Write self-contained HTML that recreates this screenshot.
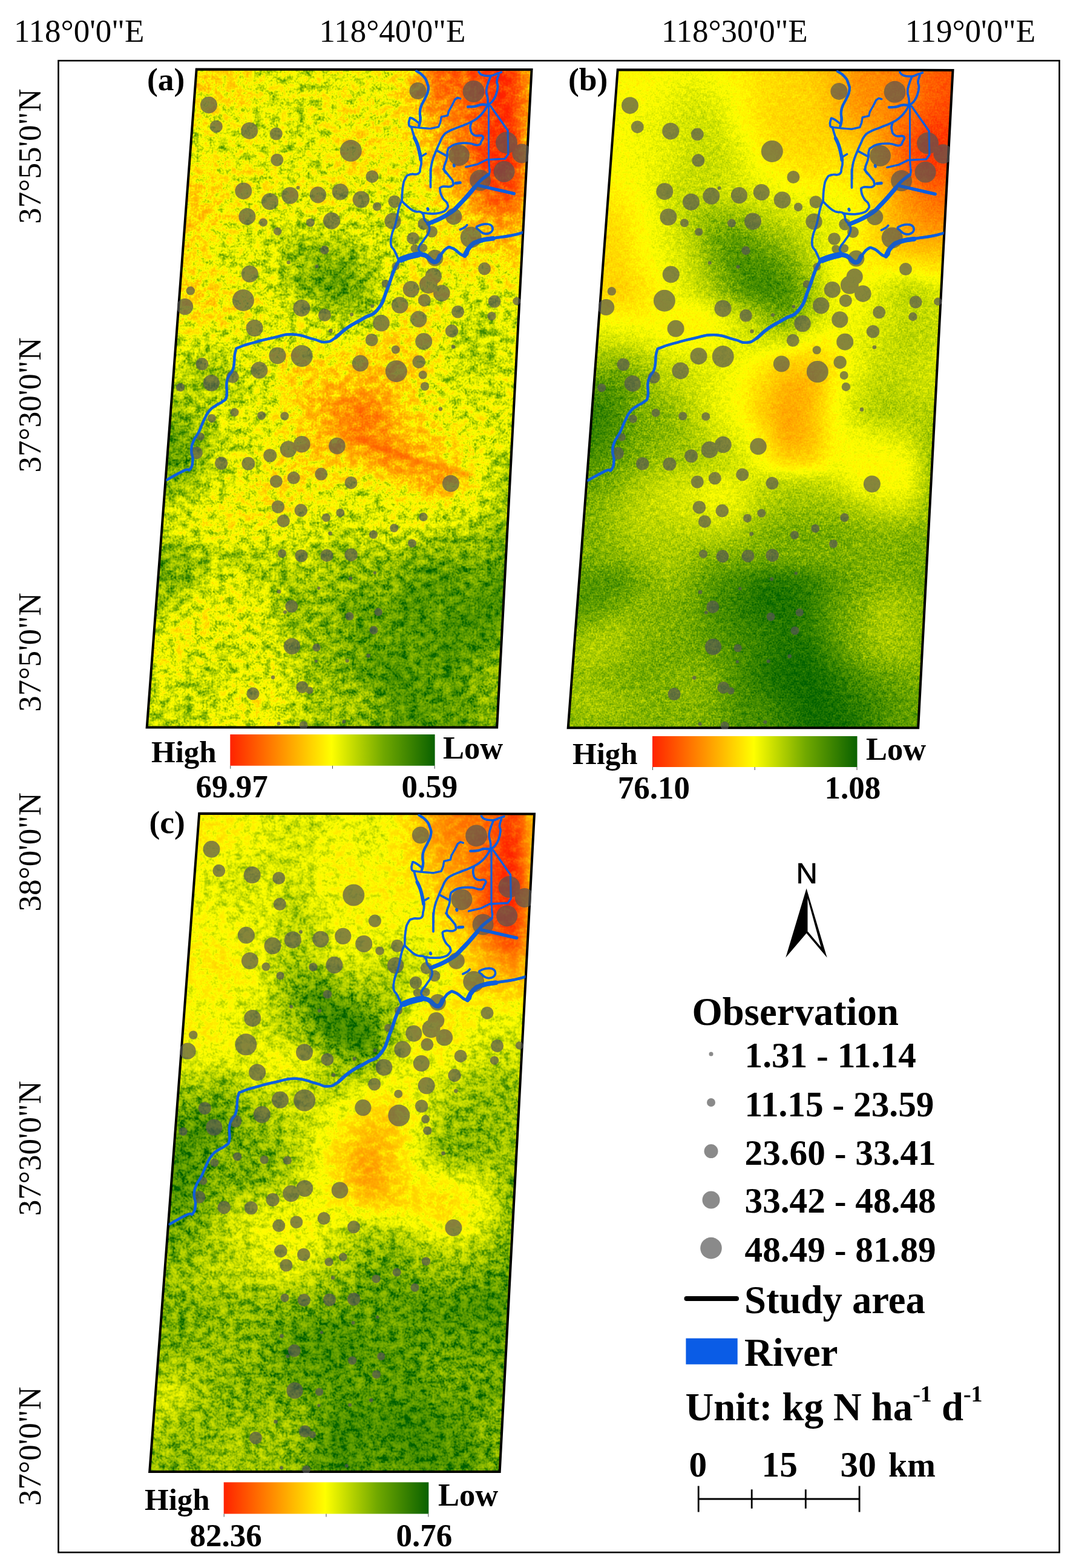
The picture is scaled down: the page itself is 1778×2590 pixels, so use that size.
<!DOCTYPE html>
<html lang="en"><head><meta charset="utf-8"><title>Figure</title>
<style>html,body{margin:0;padding:0;background:#fff}svg{display:block}text{font-family:"Liberation Serif","DejaVu Serif",serif;fill:#000}.b{font-weight:bold}.s{font-family:"Liberation Sans","DejaVu Sans",sans-serif}</style></head><body>
<svg width="1778" height="2590" viewBox="0 0 1778 2590">
<rect width="1778" height="2590" fill="#fff"/>
<defs>
<clipPath id="mc"><polygon points="1020.7,115.2 1574.5,115.9 1517.2,1202.3 938.7,1202.3"/></clipPath>
<clipPath id="mc2"><polygon points="1018.6,113.2 1576.6,113.9 1519.3,1204.3 936.6,1204.3"/></clipPath>
<filter id="sb" x="-20%" y="-100%" width="140%" height="300%"><feGaussianBlur stdDeviation="3.5"/></filter>
<linearGradient id="ramp" x1="0" x2="1" y1="0" y2="0"><stop offset="0" stop-color="#ff2200"/><stop offset="0.25" stop-color="#ff9100"/><stop offset="0.495" stop-color="#ffff00"/><stop offset="0.75" stop-color="#70a800"/><stop offset="1" stop-color="#0a6100"/></linearGradient>
<filter id="ha" filterUnits="userSpaceOnUse" x="860" y="40" width="800" height="1240" color-interpolation-filters="sRGB"><feGaussianBlur in="SourceGraphic" stdDeviation="17" result="f"/><feTurbulence type="fractalNoise" baseFrequency="0.07 0.079" numOctaves="4" seed="11" result="n1"/><feTurbulence type="fractalNoise" baseFrequency="0.327 0.3" numOctaves="1" seed="16" result="n2"/><feComposite in="n1" in2="n2" operator="arithmetic" k1="0" k2="0.60" k3="0.40" k4="0" result="n"/><feColorMatrix in="n" type="matrix" values="1 0 0 0 0 1 0 0 0 0 1 0 0 0 0 0 0 0 0 1" result="g0"/><feComponentTransfer in="g0" result="g"><feFuncR type="table" tableValues="0 0.02 0.08 0.2 0.36 0.5 0.6 0.67 0.72 0.75 0.77"/><feFuncG type="table" tableValues="0 0.02 0.08 0.2 0.36 0.5 0.6 0.67 0.72 0.75 0.77"/><feFuncB type="table" tableValues="0 0.02 0.08 0.2 0.36 0.5 0.6 0.67 0.72 0.75 0.77"/></feComponentTransfer><feComponentTransfer in="f" result="a"><feFuncR type="table" tableValues="0.3 0.55 0.8 0.75 0.75 0.62 0.5 0.4 0.3"/><feFuncG type="table" tableValues="0.3 0.55 0.8 0.75 0.75 0.62 0.5 0.4 0.3"/><feFuncB type="table" tableValues="0.3 0.55 0.8 0.75 0.75 0.62 0.5 0.4 0.3"/></feComponentTransfer><feComposite in="g" in2="a" operator="arithmetic" k1="1" k2="0" k3="-0.5" k4="0.5" result="r"/><feComposite in="f" in2="r" operator="arithmetic" k1="0" k2="1" k3="0.9" k4="-0.450" result="v"/><feComponentTransfer in="v"><feFuncR type="table" tableValues="0 0.44 1 1 1"/><feFuncG type="table" tableValues="0.38 0.66 1 0.57 0.13"/><feFuncB type="table" tableValues="0 0 0 0 0"/></feComponentTransfer></filter>
<filter id="hb" filterUnits="userSpaceOnUse" x="860" y="40" width="800" height="1240" color-interpolation-filters="sRGB"><feGaussianBlur in="SourceGraphic" stdDeviation="16" result="f"/><feTurbulence type="fractalNoise" baseFrequency="0.12 0.136" numOctaves="2" seed="7" result="n1"/><feTurbulence type="fractalNoise" baseFrequency="0.403 0.37" numOctaves="1" seed="12" result="n2"/><feComposite in="n1" in2="n2" operator="arithmetic" k1="0" k2="0.40" k3="0.60" k4="0" result="n"/><feColorMatrix in="n" type="matrix" values="1 0 0 0 0 1 0 0 0 0 1 0 0 0 0 0 0 0 0 1" result="g0"/><feComponentTransfer in="g0" result="g"><feFuncR type="table" tableValues="0 0.1 0.2 0.3 0.4 0.5 0.6 0.7 0.8 0.9 1"/><feFuncG type="table" tableValues="0 0.1 0.2 0.3 0.4 0.5 0.6 0.7 0.8 0.9 1"/><feFuncB type="table" tableValues="0 0.1 0.2 0.3 0.4 0.5 0.6 0.7 0.8 0.9 1"/></feComponentTransfer><feComponentTransfer in="f" result="a"><feFuncR type="table" tableValues="0.4 0.6 0.7 0.5 0.3 0.3 0.3 0.3 0.3"/><feFuncG type="table" tableValues="0.4 0.6 0.7 0.5 0.3 0.3 0.3 0.3 0.3"/><feFuncB type="table" tableValues="0.4 0.6 0.7 0.5 0.3 0.3 0.3 0.3 0.3"/></feComponentTransfer><feComposite in="g" in2="a" operator="arithmetic" k1="1" k2="0" k3="-0.5" k4="0.5" result="r"/><feComposite in="f" in2="r" operator="arithmetic" k1="0" k2="1" k3="0.75" k4="-0.375" result="v"/><feComponentTransfer in="v"><feFuncR type="table" tableValues="0 0.44 1 1 1"/><feFuncG type="table" tableValues="0.38 0.66 1 0.57 0.13"/><feFuncB type="table" tableValues="0 0 0 0 0"/></feComponentTransfer></filter>
<filter id="hc" filterUnits="userSpaceOnUse" x="860" y="40" width="800" height="1240" color-interpolation-filters="sRGB"><feGaussianBlur in="SourceGraphic" stdDeviation="15" result="f"/><feTurbulence type="fractalNoise" baseFrequency="0.075 0.085" numOctaves="4" seed="23" result="n1"/><feTurbulence type="fractalNoise" baseFrequency="0.305 0.28" numOctaves="1" seed="28" result="n2"/><feComposite in="n1" in2="n2" operator="arithmetic" k1="0" k2="0.60" k3="0.40" k4="0" result="n"/><feColorMatrix in="n" type="matrix" values="1 0 0 0 0 1 0 0 0 0 1 0 0 0 0 0 0 0 0 1" result="g0"/><feComponentTransfer in="g0" result="g"><feFuncR type="table" tableValues="0 0.02 0.06 0.16 0.34 0.5 0.6 0.66 0.7 0.73 0.75"/><feFuncG type="table" tableValues="0 0.02 0.06 0.16 0.34 0.5 0.6 0.66 0.7 0.73 0.75"/><feFuncB type="table" tableValues="0 0.02 0.06 0.16 0.34 0.5 0.6 0.66 0.7 0.73 0.75"/></feComponentTransfer><feComponentTransfer in="f" result="a"><feFuncR type="table" tableValues="0.35 0.55 0.75 0.55 0.35 0.3 0.25 0.25 0.25"/><feFuncG type="table" tableValues="0.35 0.55 0.75 0.55 0.35 0.3 0.25 0.25 0.25"/><feFuncB type="table" tableValues="0.35 0.55 0.75 0.55 0.35 0.3 0.25 0.25 0.25"/></feComponentTransfer><feComposite in="g" in2="a" operator="arithmetic" k1="1" k2="0" k3="-0.5" k4="0.5" result="r"/><feComposite in="f" in2="r" operator="arithmetic" k1="0" k2="1" k3="0.9" k4="-0.450" result="v"/><feComponentTransfer in="v"><feFuncR type="table" tableValues="0 0.44 1 1 1"/><feFuncG type="table" tableValues="0.38 0.66 1 0.57 0.13"/><feFuncB type="table" tableValues="0 0 0 0 0"/></feComponentTransfer></filter>
<g id="riv" fill="none" stroke="#0b5fe0" stroke-linecap="round" stroke-linejoin="round">
<path d="M971.7 793.4 C979.3 789.3 990.0 782.7 1000.2 778.0 C1010.4 773.3 1006.3 780.5 1010.1 775.8 C1013.9 771.1 1013.9 768.6 1014.5 760.4 C1015.1 752.2 1012.0 753.3 1012.3 745.1 C1012.6 736.9 1012.4 737.9 1015.6 729.7 C1018.8 721.5 1019.7 723.8 1024.4 714.4 C1029.1 705.0 1028.4 704.0 1033.1 694.6 C1037.8 685.2 1036.6 685.6 1041.9 679.2 C1047.2 672.8 1047.0 674.6 1052.9 670.5 C1058.8 666.4 1059.2 668.0 1063.9 663.9 C1068.6 659.8 1068.6 663.3 1070.4 655.1 C1072.2 646.9 1069.5 642.3 1070.6 633.2 C1071.7 624.1 1071.5 627.7 1074.5 621.0 C1077.5 614.3 1078.9 618.5 1081.7 608.0 C1084.5 597.5 1082.1 590.7 1085.0 581.6 C1087.9 572.5 1084.1 578.1 1092.6 574.0 C1101.1 569.9 1102.2 570.4 1116.8 566.3 C1131.4 562.2 1130.5 562.1 1147.5 558.6 C1164.5 555.1 1162.9 552.5 1180.4 553.1 C1197.9 553.7 1199.2 557.4 1213.3 560.8 C1227.4 564.2 1223.2 566.4 1233.1 565.8 C1243.0 565.2 1240.8 564.9 1250.6 558.6 C1260.4 552.3 1257.8 550.6 1270.0 542.1 C1282.2 533.6 1282.8 535.0 1296.3 526.8 C1309.8 518.6 1310.0 524.3 1320.5 511.4 C1331.0 498.5 1328.8 495.5 1335.8 478.5 C1342.8 461.5 1341.5 460.3 1346.8 447.8 C1352.1 435.3 1353.2 435.8 1355.5 431.5" stroke-width="4.25"/>
<path d="M1250.6 558.6 C1255.8 554.2 1257.8 550.6 1270.0 542.1 C1282.2 533.6 1282.8 535.0 1296.3 526.8 C1309.8 518.6 1310.0 524.3 1320.5 511.4 C1331.0 498.5 1328.8 495.5 1335.8 478.5 C1342.8 461.5 1341.5 460.3 1346.8 447.8 C1352.1 435.3 1353.2 435.8 1355.5 431.5" stroke-width="5.29"/>
<path d="M1354.8 431.2 C1359.4 429.5 1362.7 427.7 1372.1 424.7 C1381.6 421.8 1383.0 420.7 1390.2 420.2 C1397.4 419.8 1392.8 419.4 1399.2 422.9 C1405.6 426.5 1407.8 433.5 1414.3 433.5 C1420.7 433.5 1418.1 428.9 1423.3 422.9 C1428.5 417.0 1428.2 414.3 1433.8 411.2 C1439.4 408.1 1436.3 408.1 1444.4 411.2 C1452.4 414.3 1456.3 423.8 1463.9 422.9 C1471.5 422.1 1466.5 414.3 1472.9 407.9 C1479.4 401.5 1478.0 402.5 1488.0 398.9 C1498.0 395.3 1496.5 396.8 1510.6 394.4 C1524.6 391.9 1526.6 392.6 1540.7 389.8 C1554.7 387.0 1557.2 385.4 1563.2 383.8" stroke-width="4.48"/>
<path d="M1358.6 429.7 C1362.2 428.4 1364.5 427.0 1372.1 424.7 C1379.8 422.5 1383.2 422.1 1387.2 421.1" stroke-width="9.77"/>
<path d="M1387.2 421.1 C1390.4 421.6 1392.0 419.7 1399.2 422.9 C1406.4 426.2 1407.8 433.5 1414.3 433.5 C1420.7 433.5 1420.9 425.8 1423.3 422.9" stroke-width="7.47"/>
<path d="M1463.9 422.9 C1466.3 418.9 1466.5 414.3 1472.9 407.9 C1479.4 401.5 1478.0 402.4 1488.0 398.9 C1498.0 395.3 1504.5 395.8 1510.6 394.7" stroke-width="7.47"/>
<path d="M1383.9 117.8 C1386.9 120.0 1390.3 120.6 1395.1 126.1 C1400.0 131.5 1399.7 131.7 1401.9 138.1 C1404.1 144.5 1404.4 143.3 1403.4 150.1 C1402.4 157.0 1401.2 156.9 1398.1 163.7 C1395.1 170.5 1394.3 169.7 1392.1 175.7 C1389.9 181.7 1390.3 180.2 1389.9 186.3 C1389.5 192.3 1391.0 192.3 1390.6 198.3 C1390.2 204.3 1389.0 206.0 1388.4 208.8" stroke-width="4.14"/>
<path d="M1388.4 204.3 C1385.2 202.1 1380.5 197.6 1376.3 196.0 C1372.1 194.4 1373.8 195.3 1372.6 198.3 C1371.4 201.3 1371.0 204.1 1371.8 207.3 C1372.6 210.5 1374.6 209.5 1375.6 210.3" stroke-width="3.45"/>
<path d="M1375.6 210.3 L1389.1 211.8 L1407.2 213.3 L1420.7 210.3 L1423.7 202.8 L1425.2 193.8 L1435.8 191.5 L1437.3 184.7 L1443.3 174.2 L1447.8 165.2 L1452.3 162.2 L1456.8 163.7" stroke-width="3.10"/>
<path d="M1375.6 210.3 C1376.8 214.3 1377.3 217.3 1380.1 225.4 C1382.9 233.4 1383.5 232.4 1386.1 240.4 C1388.7 248.4 1388.3 248.2 1389.9 255.5 C1391.5 262.7 1391.9 261.5 1392.1 267.5 C1392.3 273.5 1391.9 272.7 1390.6 278.0 C1389.3 283.4 1391.7 284.6 1387.2 287.5 C1382.6 290.5 1379.3 287.0 1373.6 289.0 C1368.0 291.0 1369.3 289.4 1366.1 295.0 C1362.9 300.7 1363.2 300.1 1361.6 310.1 C1360.0 320.1 1360.5 326.6 1360.1 332.7" stroke-width="3.45"/>
<path d="M1380.8 228.4 C1382.2 231.6 1383.7 233.2 1386.1 240.4 C1388.5 247.6 1388.5 249.0 1389.9 255.5 C1391.3 261.9 1391.0 262.1 1391.4 264.5" stroke-width="5.52"/>
<path d="M1399.7 254.7 L1392.1 259.2" stroke-width="3.10"/>
<path d="M1360.1 332.7 C1362.1 334.7 1362.4 335.8 1367.6 340.2 C1372.8 344.6 1372.8 346.0 1379.7 349.2 C1386.5 352.4 1388.4 348.2 1393.2 352.2 C1398.0 356.2 1394.9 359.4 1397.7 364.3 C1400.5 369.1 1402.1 368.7 1403.7 370.3" stroke-width="3.45"/>
<path d="M1393.2 352.2 C1397.2 352.6 1400.2 353.7 1408.2 353.7 C1416.3 353.7 1416.5 354.2 1423.3 352.2 C1430.1 350.2 1430.6 350.2 1433.8 346.2 C1437.0 342.2 1436.9 342.0 1435.3 337.2 C1433.7 332.4 1431.0 333.8 1427.8 328.1 C1424.6 322.5 1423.7 321.1 1423.3 316.1 C1422.9 311.1 1421.5 311.3 1426.3 309.3 C1431.1 307.3 1436.5 310.8 1441.3 308.6 C1446.2 306.4 1445.2 305.5 1444.4 301.1 C1443.6 296.7 1442.5 297.7 1438.3 292.0 C1434.1 286.4 1429.2 280.9 1428.6 280.0 C1427.9 279.1 1435.4 288.7 1435.8 288.6 C1436.1 288.4 1430.1 286.4 1429.7 279.5 C1429.3 272.7 1432.7 271.0 1434.3 263.0 C1435.9 255.0 1434.2 254.7 1435.8 249.4 C1437.4 244.2 1435.9 246.4 1440.3 243.4 C1444.7 240.4 1444.3 239.8 1452.3 238.2 C1460.3 236.6 1461.5 236.8 1470.4 237.4 C1479.2 238.0 1479.8 241.2 1485.4 240.4 C1491.0 239.6 1489.4 238.4 1491.4 234.4 C1493.4 230.4 1496.2 228.2 1492.9 225.4 C1489.7 222.6 1484.6 227.1 1479.4 223.9 C1474.2 220.7 1474.6 219.0 1473.4 213.3 C1472.2 207.7 1474.5 205.6 1474.9 202.8" stroke-width="3.45"/>
<path d="M1360.1 332.7 C1358.9 335.5 1358.4 333.2 1355.6 343.2 C1352.8 353.2 1352.8 358.2 1349.6 370.3 C1346.4 382.3 1345.5 379.1 1343.5 388.3 C1341.5 397.6 1340.8 397.7 1342.0 404.9 C1343.2 412.1 1344.6 408.6 1348.1 415.4 C1351.5 422.2 1353.0 426.5 1354.8 430.5" stroke-width="3.45"/>
<path d="M1502.0 174.2 C1500.0 177.4 1498.9 180.6 1494.4 186.3 C1490.0 191.9 1491.0 190.9 1485.4 195.3 C1479.8 199.7 1481.4 198.8 1473.4 202.8 C1465.4 206.8 1465.0 206.3 1455.3 210.3 C1445.7 214.3 1444.5 213.8 1437.3 217.8 C1430.0 221.9 1432.3 220.2 1428.2 225.4 C1424.2 230.6 1425.4 230.6 1422.2 237.4 C1419.0 244.2 1419.4 242.9 1416.2 251.0 C1413.0 259.0 1412.4 259.1 1410.2 267.5 C1408.0 275.9 1408.5 275.2 1407.9 282.6 C1407.3 289.9 1408.0 295.7 1407.9 295.0 C1407.8 294.4 1407.6 276.0 1407.5 280.0 C1407.4 284.0 1407.5 302.1 1407.5 310.1" stroke-width="3.45"/>
<path d="M1417.7 249.4 L1434.3 258.5" stroke-width="3.45"/>
<path d="M1486.9 119.3 C1488.5 120.7 1487.7 122.8 1492.9 124.6 C1498.2 126.4 1500.5 126.5 1506.5 126.1 C1512.5 125.7 1510.7 124.7 1515.5 123.1 C1520.3 121.5 1522.1 120.8 1524.5 120.0" stroke-width="3.45"/>
<path d="M1506.5 127.6 C1505.3 130.8 1503.8 133.2 1502.0 139.6 C1500.2 146.0 1499.7 145.2 1499.7 151.6 C1499.7 158.1 1501.4 157.7 1502.0 163.7 C1502.6 169.7 1502.0 171.4 1502.0 174.2" stroke-width="3.45"/>
<path d="M1520.0 124.6 C1519.2 127.4 1517.4 129.9 1517.0 135.1 C1516.6 140.3 1518.9 138.1 1518.5 144.1 C1518.1 150.1 1517.9 151.2 1515.5 157.7 C1513.1 164.1 1513.1 163.8 1509.5 168.2 C1505.9 172.6 1504.0 172.6 1502.0 174.2" stroke-width="3.45"/>
<path d="M1502.0 174.2 C1499.2 174.0 1497.1 172.9 1491.4 173.5 C1485.8 174.1 1486.9 175.5 1480.9 176.5 C1474.9 177.5 1472.1 177.0 1468.9 177.2" stroke-width="4.02"/>
<path d="M1503.5 174.2 L1503.5 263.0 L1505.0 285.6 L1505.3 280.0 L1504.5 289.0" stroke-width="2.88"/>
<path d="M1506.5 175.7 L1535.1 216.3 L1535.8 255.5 L1530.6 263.0 L1500.5 264.5 L1485.4 272.0 L1465.9 276.5" stroke-width="3.10"/>
<path d="M1403.7 370.3 C1412.2 366.3 1420.9 364.5 1435.3 355.2 C1449.8 346.0 1445.9 347.7 1457.9 335.7 C1469.9 323.6 1474.4 316.9 1480.5 310.1" stroke-width="6.90"/>
<path d="M1480.5 310.1 C1482.9 307.3 1483.5 305.2 1489.5 299.6 C1495.5 293.9 1499.4 291.8 1503.0 289.0" stroke-width="5.17"/>
<path d="M1486.5 307.1 L1545.2 320.6" stroke-width="5.17"/>
<path d="M1403.7 370.3 C1404.1 373.5 1407.2 375.1 1405.2 382.3 C1403.2 389.5 1400.6 390.5 1396.2 397.4 C1391.8 404.2 1390.7 403.1 1388.7 407.9 C1386.7 412.7 1387.1 412.2 1388.7 415.4 C1390.3 418.6 1393.1 418.7 1394.7 419.9" stroke-width="3.45"/>
<path d="M1483.2 376.6 C1483.2 374.8 1484.5 375.0 1487.2 373.6 C1489.9 372.2 1489.8 372.2 1493.3 371.5 C1496.7 370.8 1496.6 370.7 1500.0 370.9 C1503.4 371.0 1503.6 370.8 1506.0 372.1 C1508.5 373.3 1508.3 373.4 1509.4 375.5 C1510.4 377.7 1510.4 377.8 1510.0 380.1 C1509.5 382.3 1509.4 382.4 1507.6 384.1 C1505.7 385.8 1505.8 385.8 1503.0 386.5 C1500.2 387.3 1500.0 387.4 1497.0 386.8 C1494.0 386.3 1494.4 386.3 1491.8 384.6 C1489.1 382.9 1489.5 382.6 1487.2 380.5 C1485.0 378.4 1483.2 378.4 1483.2 376.6 Z" stroke-width="3.45"/>
<path d="M1456.4 380.1 C1458.4 379.1 1460.9 378.3 1463.9 376.3 C1466.9 374.3 1466.7 373.5 1467.7 372.5" stroke-width="3.45"/>
<path d="M1448.9 303.3 L1456.4 302.6" stroke-width="4.60"/>
<path d="M1402.7 345.5 L1403.3 347.0" stroke-width="4.60"/>
<path d="M1446.0 273.5 L1446.6 275.0" stroke-width="4.60"/>
</g>
<g id="obs" fill="#555" opacity="0.7" clip-path="url(#mc2)">
<circle cx="1041.0" cy="174.2" r="14"/>
<circle cx="1053.3" cy="209.7" r="10.5"/>
<circle cx="1108.2" cy="216.7" r="14"/>
<circle cx="1152.3" cy="221.8" r="10.5"/>
<circle cx="1153.8" cy="265.0" r="10.5"/>
<circle cx="1275.8" cy="249.9" r="18"/>
<circle cx="1310.9" cy="292.5" r="10.5"/>
<circle cx="1098.3" cy="316.2" r="14"/>
<circle cx="1142.0" cy="333.7" r="14"/>
<circle cx="1175.3" cy="323.8" r="14"/>
<circle cx="1188.5" cy="310.7" r="3"/>
<circle cx="1221.4" cy="322.7" r="13.6"/>
<circle cx="1258.3" cy="317.7" r="13.6"/>
<circle cx="1292.7" cy="330.4" r="14"/>
<circle cx="1319.0" cy="342.0" r="7.2"/>
<circle cx="1104.4" cy="358.5" r="14"/>
<circle cx="1131.0" cy="368.2" r="7"/>
<circle cx="1208.9" cy="368.6" r="7"/>
<circle cx="1244.0" cy="365.5" r="14"/>
<circle cx="1154.7" cy="383.0" r="6.6"/>
<circle cx="1386.4" cy="150.9" r="14"/>
<circle cx="1478.6" cy="151.8" r="18"/>
<circle cx="1533.0" cy="236.5" r="18"/>
<circle cx="1558.3" cy="254.3" r="16"/>
<circle cx="1454.5" cy="257.3" r="17.5"/>
<circle cx="1529.1" cy="284.3" r="17.5"/>
<circle cx="1489.6" cy="298.6" r="17.5"/>
<circle cx="1348.0" cy="333.7" r="10.5"/>
<circle cx="1345.0" cy="366.0" r="13.6"/>
<circle cx="1445.7" cy="358.5" r="13.6"/>
<circle cx="1396.2" cy="370.5" r="10"/>
<circle cx="1409.5" cy="383.5" r="9.5"/>
<circle cx="1378.5" cy="394.5" r="10.3"/>
<circle cx="1381.3" cy="411.4" r="7"/>
<circle cx="1395.1" cy="410.2" r="7"/>
<circle cx="1474.2" cy="392.9" r="17.5"/>
<circle cx="1414.8" cy="427.0" r="13.6"/>
<circle cx="1496.5" cy="444.6" r="10.5"/>
<circle cx="1350.0" cy="440.5" r="6.5"/>
<circle cx="1333.2" cy="469.3" r="6.6"/>
<circle cx="1412.2" cy="457.0" r="13.6"/>
<circle cx="1403.9" cy="470.8" r="15"/>
<circle cx="1425.8" cy="485.1" r="13.8"/>
<circle cx="1375.3" cy="478.5" r="13.6"/>
<circle cx="1397.3" cy="496.7" r="10.5"/>
<circle cx="1356.7" cy="504.8" r="13.8"/>
<circle cx="1311.3" cy="506.4" r="3"/>
<circle cx="1277.1" cy="520.2" r="3"/>
<circle cx="1387.8" cy="527.9" r="13.6"/>
<circle cx="1452.6" cy="515.8" r="10.5"/>
<circle cx="1513.1" cy="498.9" r="10.5"/>
<circle cx="1549.8" cy="498.2" r="6.6"/>
<circle cx="1508.5" cy="523.0" r="7.2"/>
<circle cx="1326.0" cy="534.5" r="13.8"/>
<circle cx="1442.5" cy="547.6" r="10.7"/>
<circle cx="1310.2" cy="562.3" r="10.5"/>
<circle cx="1396.2" cy="564.7" r="14"/>
<circle cx="1444.9" cy="573.5" r="3.3"/>
<circle cx="1349.7" cy="578.3" r="7"/>
<circle cx="1291.4" cy="601.0" r="13.6"/>
<circle cx="1350.8" cy="614.0" r="18"/>
<circle cx="1388.1" cy="598.5" r="10.7"/>
<circle cx="1394.7" cy="620.0" r="7"/>
<circle cx="1397.9" cy="639.0" r="7.2"/>
<circle cx="1232.4" cy="413.8" r="7.2"/>
<circle cx="1172.7" cy="434.2" r="3"/>
<circle cx="1219.5" cy="440.8" r="3"/>
<circle cx="1108.7" cy="453.3" r="14"/>
<circle cx="1010.8" cy="481.1" r="7.2"/>
<circle cx="1001.6" cy="507.5" r="13.6"/>
<circle cx="1097.9" cy="496.7" r="18"/>
<circle cx="1194.5" cy="509.7" r="14"/>
<circle cx="1232.4" cy="521.3" r="10.5"/>
<circle cx="1242.5" cy="547.2" r="3.3"/>
<circle cx="1116.6" cy="542.8" r="14"/>
<circle cx="1154.5" cy="588.2" r="14"/>
<circle cx="1194.7" cy="588.9" r="18"/>
<circle cx="1029.9" cy="602.1" r="10.5"/>
<circle cx="1124.4" cy="612.4" r="14"/>
<circle cx="1080.4" cy="623.3" r="10.3"/>
<circle cx="1045.3" cy="633.5" r="13.6"/>
<circle cx="994.1" cy="640.5" r="7"/>
<circle cx="1083.6" cy="681.9" r="7"/>
<circle cx="1128.2" cy="687.2" r="7"/>
<circle cx="1166.3" cy="688.0" r="7"/>
<circle cx="1045.9" cy="691.8" r="7"/>
<circle cx="1027.2" cy="722.0" r="6.6"/>
<circle cx="1020.6" cy="748.8" r="10.3"/>
<circle cx="1194.9" cy="734.5" r="13.8"/>
<circle cx="1172.5" cy="742.9" r="13.8"/>
<circle cx="1253.0" cy="737.4" r="13.8"/>
<circle cx="1142.2" cy="753.2" r="11"/>
<circle cx="1061.7" cy="765.9" r="10.7"/>
<circle cx="1106.4" cy="766.6" r="11"/>
<circle cx="1226.7" cy="783.9" r="10.5"/>
<circle cx="1181.3" cy="790.1" r="10.5"/>
<circle cx="1152.3" cy="796.0" r="10.5"/>
<circle cx="1276.0" cy="798.2" r="10.5"/>
<circle cx="1155.4" cy="837.9" r="10.7"/>
<circle cx="1193.3" cy="843.8" r="10.7"/>
<circle cx="1164.4" cy="861.4" r="10.5"/>
<circle cx="1235.0" cy="855.9" r="7"/>
<circle cx="1258.3" cy="847.8" r="7"/>
<circle cx="1241.6" cy="881.9" r="3.3"/>
<circle cx="1424.0" cy="676.4" r="3.3"/>
<circle cx="1440.9" cy="799.5" r="14"/>
<circle cx="1395.5" cy="854.8" r="7.2"/>
<circle cx="1347.2" cy="873.0" r="7"/>
<circle cx="1313.0" cy="883.8" r="7"/>
<circle cx="1377.0" cy="898.2" r="7"/>
<circle cx="1162.0" cy="915.1" r="7"/>
<circle cx="1193.9" cy="918.8" r="10.5"/>
<circle cx="1236.0" cy="918.4" r="10.5"/>
<circle cx="1276.2" cy="917.3" r="10.7"/>
<circle cx="1157.0" cy="978.1" r="3.3"/>
<circle cx="1222.8" cy="972.2" r="2.6"/>
<circle cx="1177.8" cy="1002.4" r="10.5"/>
<circle cx="1166.9" cy="1011.7" r="3"/>
<circle cx="1178.5" cy="1068.3" r="13.6"/>
<circle cx="1219.1" cy="1070.5" r="6.6"/>
<circle cx="1218.4" cy="1092.9" r="2.6"/>
<circle cx="1147.1" cy="1119.6" r="3.3"/>
<circle cx="1195.4" cy="1135.7" r="10"/>
<circle cx="1207.5" cy="1141.1" r="6"/>
<circle cx="1114.0" cy="1146.6" r="10.5"/>
<circle cx="1156.6" cy="1196.0" r="3"/>
<circle cx="1197.6" cy="1198.8" r="7"/>
<circle cx="1264.3" cy="1192.7" r="3"/>
<circle cx="1275.1" cy="956.4" r="3"/>
<circle cx="1315.3" cy="946.9" r="2.6"/>
<circle cx="1321.2" cy="1011.7" r="6.6"/>
<circle cx="1273.6" cy="1018.7" r="7"/>
<circle cx="1313.5" cy="1041.7" r="7"/>
<circle cx="1304.7" cy="1084.1" r="3.3"/>
<circle cx="1269.6" cy="1092.2" r="3"/>
</g>
</defs>
<g transform="translate(-696.0,-0.8)">
<g clip-path="url(#mc)"><g filter="url(#ha)" shape-rendering="crispEdges">
<rect x="840" y="20" width="200" height="120" fill="#919191"/>
<rect x="1040" y="20" width="40" height="120" fill="#969696"/>
<rect x="1080" y="20" width="40" height="120" fill="#878787"/>
<rect x="1120" y="20" width="40" height="120" fill="#777777"/>
<rect x="1160" y="20" width="40" height="120" fill="#757575"/>
<rect x="1200" y="20" width="40" height="120" fill="#777777"/>
<rect x="1240" y="20" width="40" height="120" fill="#7d7d7d"/>
<rect x="1280" y="20" width="40" height="120" fill="#777777"/>
<rect x="1320" y="20" width="40" height="120" fill="#808080"/>
<rect x="1360" y="20" width="40" height="120" fill="#a8a8a8"/>
<rect x="1400" y="20" width="40" height="120" fill="#d5d5d5"/>
<rect x="1440" y="20" width="40" height="120" fill="#dddddd"/>
<rect x="1480" y="20" width="40" height="120" fill="#f1f1f1"/>
<rect x="1520" y="20" width="40" height="120" fill="#ffffff"/>
<rect x="1560" y="20" width="120" height="120" fill="#969696"/>
<rect x="840" y="140" width="200" height="40" fill="#8e8e8e"/>
<rect x="1040" y="140" width="40" height="40" fill="#969696"/>
<rect x="1080" y="140" width="40" height="40" fill="#878787"/>
<rect x="1120" y="140" width="40" height="40" fill="#777777"/>
<rect x="1160" y="140" width="40" height="40" fill="#757575"/>
<rect x="1200" y="140" width="40" height="40" fill="#777777"/>
<rect x="1240" y="140" width="40" height="40" fill="#838383"/>
<rect x="1280" y="140" width="40" height="40" fill="#777777"/>
<rect x="1320" y="140" width="40" height="40" fill="#808080"/>
<rect x="1360" y="140" width="40" height="40" fill="#a4a4a4"/>
<rect x="1400" y="140" width="80" height="40" fill="#d5d5d5"/>
<rect x="1480" y="140" width="40" height="40" fill="#e9e9e9"/>
<rect x="1520" y="140" width="40" height="40" fill="#ffffff"/>
<rect x="1560" y="140" width="120" height="40" fill="#969696"/>
<rect x="840" y="180" width="200" height="40" fill="#808080"/>
<rect x="1040" y="180" width="80" height="40" fill="#7d7d7d"/>
<rect x="1120" y="180" width="120" height="40" fill="#757575"/>
<rect x="1240" y="180" width="80" height="40" fill="#878787"/>
<rect x="1320" y="180" width="40" height="40" fill="#838383"/>
<rect x="1360" y="180" width="40" height="40" fill="#919191"/>
<rect x="1400" y="180" width="40" height="40" fill="#b8b8b8"/>
<rect x="1440" y="180" width="40" height="40" fill="#c7c7c7"/>
<rect x="1480" y="180" width="40" height="40" fill="#e9e9e9"/>
<rect x="1520" y="180" width="40" height="40" fill="#ffffff"/>
<rect x="1560" y="180" width="120" height="40" fill="#969696"/>
<rect x="840" y="220" width="240" height="40" fill="#757575"/>
<rect x="1080" y="220" width="80" height="40" fill="#777777"/>
<rect x="1160" y="220" width="80" height="40" fill="#757575"/>
<rect x="1240" y="220" width="40" height="40" fill="#8a8a8a"/>
<rect x="1280" y="220" width="40" height="40" fill="#909090"/>
<rect x="1320" y="220" width="40" height="40" fill="#838383"/>
<rect x="1360" y="220" width="40" height="40" fill="#888888"/>
<rect x="1400" y="220" width="40" height="40" fill="#aeaeae"/>
<rect x="1440" y="220" width="40" height="40" fill="#c7c7c7"/>
<rect x="1480" y="220" width="40" height="40" fill="#f1f1f1"/>
<rect x="1520" y="220" width="40" height="40" fill="#ffffff"/>
<rect x="1560" y="220" width="120" height="40" fill="#969696"/>
<rect x="840" y="260" width="200" height="40" fill="#888888"/>
<rect x="1040" y="260" width="40" height="40" fill="#878787"/>
<rect x="1080" y="260" width="40" height="40" fill="#838383"/>
<rect x="1120" y="260" width="40" height="40" fill="#7d7d7d"/>
<rect x="1160" y="260" width="80" height="40" fill="#757575"/>
<rect x="1240" y="260" width="40" height="40" fill="#878787"/>
<rect x="1280" y="260" width="40" height="40" fill="#8a8a8a"/>
<rect x="1320" y="260" width="40" height="40" fill="#808080"/>
<rect x="1360" y="260" width="40" height="40" fill="#838383"/>
<rect x="1400" y="260" width="40" height="40" fill="#a4a4a4"/>
<rect x="1440" y="260" width="40" height="40" fill="#c7c7c7"/>
<rect x="1480" y="260" width="40" height="40" fill="#f1f1f1"/>
<rect x="1520" y="260" width="40" height="40" fill="#ffffff"/>
<rect x="1560" y="260" width="120" height="40" fill="#969696"/>
<rect x="840" y="300" width="200" height="40" fill="#969696"/>
<rect x="1040" y="300" width="40" height="40" fill="#8a8a8a"/>
<rect x="1080" y="300" width="40" height="40" fill="#838383"/>
<rect x="1120" y="300" width="80" height="40" fill="#7d7d7d"/>
<rect x="1200" y="300" width="40" height="40" fill="#878787"/>
<rect x="1240" y="300" width="40" height="40" fill="#7d7d7d"/>
<rect x="1280" y="300" width="80" height="40" fill="#757575"/>
<rect x="1360" y="300" width="40" height="40" fill="#808080"/>
<rect x="1400" y="300" width="40" height="40" fill="#919191"/>
<rect x="1440" y="300" width="40" height="40" fill="#a8a8a8"/>
<rect x="1480" y="300" width="40" height="40" fill="#e3e3e3"/>
<rect x="1520" y="300" width="40" height="40" fill="#f1f1f1"/>
<rect x="1560" y="300" width="120" height="40" fill="#969696"/>
<rect x="840" y="340" width="200" height="40" fill="#9d9d9d"/>
<rect x="1040" y="340" width="40" height="40" fill="#909090"/>
<rect x="1080" y="340" width="40" height="40" fill="#838383"/>
<rect x="1120" y="340" width="80" height="40" fill="#757575"/>
<rect x="1200" y="340" width="40" height="40" fill="#777777"/>
<rect x="1240" y="340" width="80" height="40" fill="#757575"/>
<rect x="1320" y="340" width="40" height="40" fill="#6f6f6f"/>
<rect x="1360" y="340" width="40" height="40" fill="#757575"/>
<rect x="1400" y="340" width="40" height="40" fill="#888888"/>
<rect x="1440" y="340" width="40" height="40" fill="#969696"/>
<rect x="1480" y="340" width="40" height="40" fill="#b8b8b8"/>
<rect x="1520" y="340" width="40" height="40" fill="#c1c1c1"/>
<rect x="1560" y="340" width="120" height="40" fill="#969696"/>
<rect x="840" y="380" width="200" height="40" fill="#919191"/>
<rect x="1040" y="380" width="80" height="40" fill="#757575"/>
<rect x="1120" y="380" width="40" height="40" fill="#6f6f6f"/>
<rect x="1160" y="380" width="80" height="40" fill="#575757"/>
<rect x="1240" y="380" width="40" height="40" fill="#5e5e5e"/>
<rect x="1280" y="380" width="40" height="40" fill="#696969"/>
<rect x="1320" y="380" width="40" height="40" fill="#6f6f6f"/>
<rect x="1360" y="380" width="40" height="40" fill="#757575"/>
<rect x="1400" y="380" width="40" height="40" fill="#888888"/>
<rect x="1440" y="380" width="40" height="40" fill="#919191"/>
<rect x="1480" y="380" width="40" height="40" fill="#9d9d9d"/>
<rect x="1520" y="380" width="40" height="40" fill="#a4a4a4"/>
<rect x="1560" y="380" width="120" height="40" fill="#919191"/>
<rect x="840" y="420" width="160" height="40" fill="#919191"/>
<rect x="1000" y="420" width="40" height="40" fill="#888888"/>
<rect x="1040" y="420" width="80" height="40" fill="#757575"/>
<rect x="1120" y="420" width="40" height="40" fill="#6f6f6f"/>
<rect x="1160" y="420" width="40" height="40" fill="#575757"/>
<rect x="1200" y="420" width="40" height="40" fill="#444444"/>
<rect x="1240" y="420" width="40" height="40" fill="#3b3b3b"/>
<rect x="1280" y="420" width="40" height="40" fill="#575757"/>
<rect x="1320" y="420" width="40" height="40" fill="#757575"/>
<rect x="1360" y="420" width="40" height="40" fill="#808080"/>
<rect x="1400" y="420" width="120" height="40" fill="#888888"/>
<rect x="1520" y="420" width="40" height="40" fill="#919191"/>
<rect x="1560" y="420" width="120" height="40" fill="#888888"/>
<rect x="840" y="460" width="200" height="40" fill="#969696"/>
<rect x="1040" y="460" width="40" height="40" fill="#8e8e8e"/>
<rect x="1080" y="460" width="40" height="40" fill="#808080"/>
<rect x="1120" y="460" width="40" height="40" fill="#757575"/>
<rect x="1160" y="460" width="40" height="40" fill="#5e5e5e"/>
<rect x="1200" y="460" width="40" height="40" fill="#3b3b3b"/>
<rect x="1240" y="460" width="40" height="40" fill="#333333"/>
<rect x="1280" y="460" width="40" height="40" fill="#494949"/>
<rect x="1320" y="460" width="40" height="40" fill="#757575"/>
<rect x="1360" y="460" width="40" height="40" fill="#838383"/>
<rect x="1400" y="460" width="40" height="40" fill="#888888"/>
<rect x="1440" y="460" width="80" height="40" fill="#757575"/>
<rect x="1520" y="460" width="160" height="40" fill="#808080"/>
<rect x="840" y="500" width="160" height="40" fill="#888888"/>
<rect x="1000" y="500" width="40" height="40" fill="#919191"/>
<rect x="1040" y="500" width="40" height="40" fill="#8e8e8e"/>
<rect x="1080" y="500" width="40" height="40" fill="#808080"/>
<rect x="1120" y="500" width="80" height="40" fill="#757575"/>
<rect x="1200" y="500" width="40" height="40" fill="#6f6f6f"/>
<rect x="1240" y="500" width="80" height="40" fill="#575757"/>
<rect x="1320" y="500" width="40" height="40" fill="#808080"/>
<rect x="1360" y="500" width="40" height="40" fill="#888888"/>
<rect x="1400" y="500" width="40" height="40" fill="#808080"/>
<rect x="1440" y="500" width="40" height="40" fill="#6f6f6f"/>
<rect x="1480" y="500" width="40" height="40" fill="#636363"/>
<rect x="1520" y="500" width="160" height="40" fill="#757575"/>
<rect x="840" y="540" width="440" height="40" fill="#757575"/>
<rect x="1280" y="540" width="40" height="40" fill="#888888"/>
<rect x="1320" y="540" width="40" height="40" fill="#8e8e8e"/>
<rect x="1360" y="540" width="40" height="40" fill="#919191"/>
<rect x="1400" y="540" width="40" height="40" fill="#808080"/>
<rect x="1440" y="540" width="40" height="40" fill="#636363"/>
<rect x="1480" y="540" width="40" height="40" fill="#5e5e5e"/>
<rect x="1520" y="540" width="160" height="40" fill="#757575"/>
<rect x="840" y="580" width="160" height="40" fill="#6f6f6f"/>
<rect x="1000" y="580" width="80" height="40" fill="#5e5e5e"/>
<rect x="1080" y="580" width="80" height="40" fill="#757575"/>
<rect x="1160" y="580" width="40" height="40" fill="#969696"/>
<rect x="1200" y="580" width="80" height="40" fill="#909090"/>
<rect x="1280" y="580" width="40" height="40" fill="#969696"/>
<rect x="1320" y="580" width="40" height="40" fill="#9f9f9f"/>
<rect x="1360" y="580" width="40" height="40" fill="#969696"/>
<rect x="1400" y="580" width="40" height="40" fill="#7d7d7d"/>
<rect x="1440" y="580" width="40" height="40" fill="#696969"/>
<rect x="1480" y="580" width="40" height="40" fill="#636363"/>
<rect x="1520" y="580" width="160" height="40" fill="#757575"/>
<rect x="840" y="620" width="160" height="40" fill="#5e5e5e"/>
<rect x="1000" y="620" width="40" height="40" fill="#575757"/>
<rect x="1040" y="620" width="40" height="40" fill="#4f4f4f"/>
<rect x="1080" y="620" width="40" height="40" fill="#636363"/>
<rect x="1120" y="620" width="40" height="40" fill="#757575"/>
<rect x="1160" y="620" width="40" height="40" fill="#969696"/>
<rect x="1200" y="620" width="40" height="40" fill="#9f9f9f"/>
<rect x="1240" y="620" width="40" height="40" fill="#a6a6a6"/>
<rect x="1280" y="620" width="40" height="40" fill="#aeaeae"/>
<rect x="1320" y="620" width="40" height="40" fill="#a6a6a6"/>
<rect x="1360" y="620" width="40" height="40" fill="#909090"/>
<rect x="1400" y="620" width="40" height="40" fill="#777777"/>
<rect x="1440" y="620" width="80" height="40" fill="#6f6f6f"/>
<rect x="1520" y="620" width="160" height="40" fill="#757575"/>
<rect x="840" y="660" width="160" height="40" fill="#444444"/>
<rect x="1000" y="660" width="40" height="40" fill="#636363"/>
<rect x="1040" y="660" width="120" height="40" fill="#757575"/>
<rect x="1160" y="660" width="40" height="40" fill="#8a8a8a"/>
<rect x="1200" y="660" width="40" height="40" fill="#aeaeae"/>
<rect x="1240" y="660" width="40" height="40" fill="#c4c4c4"/>
<rect x="1280" y="660" width="40" height="40" fill="#d2d2d2"/>
<rect x="1320" y="660" width="40" height="40" fill="#aeaeae"/>
<rect x="1360" y="660" width="40" height="40" fill="#909090"/>
<rect x="1400" y="660" width="40" height="40" fill="#7d7d7d"/>
<rect x="1440" y="660" width="240" height="40" fill="#757575"/>
<rect x="840" y="700" width="160" height="40" fill="#3b3b3b"/>
<rect x="1000" y="700" width="40" height="40" fill="#444444"/>
<rect x="1040" y="700" width="40" height="40" fill="#636363"/>
<rect x="1080" y="700" width="80" height="40" fill="#757575"/>
<rect x="1160" y="700" width="40" height="40" fill="#878787"/>
<rect x="1200" y="700" width="40" height="40" fill="#9b9b9b"/>
<rect x="1240" y="700" width="40" height="40" fill="#bbbbbb"/>
<rect x="1280" y="700" width="40" height="40" fill="#d2d2d2"/>
<rect x="1320" y="700" width="40" height="40" fill="#b5b5b5"/>
<rect x="1360" y="700" width="40" height="40" fill="#9f9f9f"/>
<rect x="1400" y="700" width="40" height="40" fill="#969696"/>
<rect x="1440" y="700" width="40" height="40" fill="#838383"/>
<rect x="1480" y="700" width="80" height="40" fill="#757575"/>
<rect x="1560" y="700" width="120" height="40" fill="#636363"/>
<rect x="840" y="740" width="160" height="40" fill="#333333"/>
<rect x="1000" y="740" width="40" height="40" fill="#494949"/>
<rect x="1040" y="740" width="40" height="40" fill="#6f6f6f"/>
<rect x="1080" y="740" width="40" height="40" fill="#757575"/>
<rect x="1120" y="740" width="40" height="40" fill="#808080"/>
<rect x="1160" y="740" width="40" height="40" fill="#909090"/>
<rect x="1200" y="740" width="80" height="40" fill="#9b9b9b"/>
<rect x="1280" y="740" width="40" height="40" fill="#a6a6a6"/>
<rect x="1320" y="740" width="40" height="40" fill="#cdcdcd"/>
<rect x="1360" y="740" width="40" height="40" fill="#b5b5b5"/>
<rect x="1400" y="740" width="40" height="40" fill="#9b9b9b"/>
<rect x="1440" y="740" width="40" height="40" fill="#888888"/>
<rect x="1480" y="740" width="40" height="40" fill="#757575"/>
<rect x="1520" y="740" width="40" height="40" fill="#575757"/>
<rect x="1560" y="740" width="120" height="40" fill="#636363"/>
<rect x="840" y="780" width="160" height="40" fill="#494949"/>
<rect x="1000" y="780" width="40" height="40" fill="#575757"/>
<rect x="1040" y="780" width="40" height="40" fill="#757575"/>
<rect x="1080" y="780" width="40" height="40" fill="#7b7b7b"/>
<rect x="1120" y="780" width="40" height="40" fill="#888888"/>
<rect x="1160" y="780" width="40" height="40" fill="#909090"/>
<rect x="1200" y="780" width="40" height="40" fill="#8a8a8a"/>
<rect x="1240" y="780" width="40" height="40" fill="#7d7d7d"/>
<rect x="1280" y="780" width="40" height="40" fill="#777777"/>
<rect x="1320" y="780" width="40" height="40" fill="#878787"/>
<rect x="1360" y="780" width="40" height="40" fill="#a6a6a6"/>
<rect x="1400" y="780" width="40" height="40" fill="#c4c4c4"/>
<rect x="1440" y="780" width="40" height="40" fill="#919191"/>
<rect x="1480" y="780" width="40" height="40" fill="#757575"/>
<rect x="1520" y="780" width="40" height="40" fill="#494949"/>
<rect x="1560" y="780" width="120" height="40" fill="#636363"/>
<rect x="840" y="820" width="160" height="40" fill="#636363"/>
<rect x="1000" y="820" width="40" height="40" fill="#757575"/>
<rect x="1040" y="820" width="80" height="40" fill="#808080"/>
<rect x="1120" y="820" width="40" height="40" fill="#888888"/>
<rect x="1160" y="820" width="40" height="40" fill="#838383"/>
<rect x="1200" y="820" width="80" height="40" fill="#757575"/>
<rect x="1280" y="820" width="40" height="40" fill="#6f6f6f"/>
<rect x="1320" y="820" width="160" height="40" fill="#757575"/>
<rect x="1480" y="820" width="40" height="40" fill="#6f6f6f"/>
<rect x="1520" y="820" width="160" height="40" fill="#575757"/>
<rect x="840" y="860" width="120" height="40" fill="#636363"/>
<rect x="960" y="860" width="40" height="40" fill="#6f6f6f"/>
<rect x="1000" y="860" width="40" height="40" fill="#757575"/>
<rect x="1040" y="860" width="80" height="40" fill="#808080"/>
<rect x="1120" y="860" width="40" height="40" fill="#7b7b7b"/>
<rect x="1160" y="860" width="40" height="40" fill="#757575"/>
<rect x="1200" y="860" width="40" height="40" fill="#696969"/>
<rect x="1240" y="860" width="40" height="40" fill="#636363"/>
<rect x="1280" y="860" width="40" height="40" fill="#6f6f6f"/>
<rect x="1320" y="860" width="80" height="40" fill="#757575"/>
<rect x="1400" y="860" width="40" height="40" fill="#636363"/>
<rect x="1440" y="860" width="40" height="40" fill="#5e5e5e"/>
<rect x="1480" y="860" width="40" height="40" fill="#4f4f4f"/>
<rect x="1520" y="860" width="160" height="40" fill="#494949"/>
<rect x="840" y="900" width="160" height="40" fill="#444444"/>
<rect x="1000" y="900" width="40" height="40" fill="#525252"/>
<rect x="1040" y="900" width="40" height="40" fill="#5e5e5e"/>
<rect x="1080" y="900" width="40" height="40" fill="#575757"/>
<rect x="1120" y="900" width="40" height="40" fill="#5e5e5e"/>
<rect x="1160" y="900" width="40" height="40" fill="#666666"/>
<rect x="1200" y="900" width="40" height="40" fill="#5e5e5e"/>
<rect x="1240" y="900" width="120" height="40" fill="#525252"/>
<rect x="1360" y="900" width="40" height="40" fill="#444444"/>
<rect x="1400" y="900" width="40" height="40" fill="#3e3e3e"/>
<rect x="1440" y="900" width="80" height="40" fill="#444444"/>
<rect x="1520" y="900" width="160" height="40" fill="#363636"/>
<rect x="840" y="940" width="160" height="40" fill="#444444"/>
<rect x="1000" y="940" width="40" height="40" fill="#595959"/>
<rect x="1040" y="940" width="80" height="40" fill="#757575"/>
<rect x="1120" y="940" width="40" height="40" fill="#5e5e5e"/>
<rect x="1160" y="940" width="40" height="40" fill="#525252"/>
<rect x="1200" y="940" width="40" height="40" fill="#5e5e5e"/>
<rect x="1240" y="940" width="80" height="40" fill="#4c4c4c"/>
<rect x="1320" y="940" width="40" height="40" fill="#494949"/>
<rect x="1360" y="940" width="40" height="40" fill="#363636"/>
<rect x="1400" y="940" width="40" height="40" fill="#2d2d2d"/>
<rect x="1440" y="940" width="80" height="40" fill="#363636"/>
<rect x="1520" y="940" width="160" height="40" fill="#282828"/>
<rect x="840" y="980" width="120" height="40" fill="#494949"/>
<rect x="960" y="980" width="40" height="40" fill="#5e5e5e"/>
<rect x="1000" y="980" width="120" height="40" fill="#797979"/>
<rect x="1120" y="980" width="40" height="40" fill="#6b6b6b"/>
<rect x="1160" y="980" width="40" height="40" fill="#4c4c4c"/>
<rect x="1200" y="980" width="40" height="40" fill="#525252"/>
<rect x="1240" y="980" width="40" height="40" fill="#444444"/>
<rect x="1280" y="980" width="80" height="40" fill="#363636"/>
<rect x="1360" y="980" width="40" height="40" fill="#2d2d2d"/>
<rect x="1400" y="980" width="40" height="40" fill="#363636"/>
<rect x="1440" y="980" width="80" height="40" fill="#2d2d2d"/>
<rect x="1520" y="980" width="160" height="40" fill="#282828"/>
<rect x="840" y="1020" width="120" height="40" fill="#6b6b6b"/>
<rect x="960" y="1020" width="40" height="40" fill="#808080"/>
<rect x="1000" y="1020" width="40" height="40" fill="#858585"/>
<rect x="1040" y="1020" width="40" height="40" fill="#797979"/>
<rect x="1080" y="1020" width="40" height="40" fill="#757575"/>
<rect x="1120" y="1020" width="40" height="40" fill="#717171"/>
<rect x="1160" y="1020" width="80" height="40" fill="#525252"/>
<rect x="1240" y="1020" width="40" height="40" fill="#444444"/>
<rect x="1280" y="1020" width="120" height="40" fill="#363636"/>
<rect x="1400" y="1020" width="120" height="40" fill="#2d2d2d"/>
<rect x="1520" y="1020" width="160" height="40" fill="#363636"/>
<rect x="840" y="1060" width="120" height="40" fill="#797979"/>
<rect x="960" y="1060" width="40" height="40" fill="#808080"/>
<rect x="1000" y="1060" width="40" height="40" fill="#757575"/>
<rect x="1040" y="1060" width="40" height="40" fill="#6b6b6b"/>
<rect x="1080" y="1060" width="40" height="40" fill="#717171"/>
<rect x="1120" y="1060" width="40" height="40" fill="#757575"/>
<rect x="1160" y="1060" width="40" height="40" fill="#5e5e5e"/>
<rect x="1200" y="1060" width="40" height="40" fill="#525252"/>
<rect x="1240" y="1060" width="40" height="40" fill="#444444"/>
<rect x="1280" y="1060" width="120" height="40" fill="#363636"/>
<rect x="1400" y="1060" width="80" height="40" fill="#2d2d2d"/>
<rect x="1480" y="1060" width="40" height="40" fill="#363636"/>
<rect x="1520" y="1060" width="160" height="40" fill="#525252"/>
<rect x="840" y="1100" width="120" height="40" fill="#757575"/>
<rect x="960" y="1100" width="40" height="40" fill="#717171"/>
<rect x="1000" y="1100" width="40" height="40" fill="#6b6b6b"/>
<rect x="1040" y="1100" width="40" height="40" fill="#636363"/>
<rect x="1080" y="1100" width="40" height="40" fill="#757575"/>
<rect x="1120" y="1100" width="40" height="40" fill="#797979"/>
<rect x="1160" y="1100" width="40" height="40" fill="#666666"/>
<rect x="1200" y="1100" width="40" height="40" fill="#525252"/>
<rect x="1240" y="1100" width="40" height="40" fill="#4c4c4c"/>
<rect x="1280" y="1100" width="40" height="40" fill="#363636"/>
<rect x="1320" y="1100" width="40" height="40" fill="#282828"/>
<rect x="1360" y="1100" width="40" height="40" fill="#2d2d2d"/>
<rect x="1400" y="1100" width="80" height="40" fill="#363636"/>
<rect x="1480" y="1100" width="200" height="40" fill="#525252"/>
<rect x="840" y="1140" width="200" height="40" fill="#6b6b6b"/>
<rect x="1040" y="1140" width="40" height="40" fill="#717171"/>
<rect x="1080" y="1140" width="80" height="40" fill="#808080"/>
<rect x="1160" y="1140" width="40" height="40" fill="#6b6b6b"/>
<rect x="1200" y="1140" width="40" height="40" fill="#525252"/>
<rect x="1240" y="1140" width="40" height="40" fill="#5e5e5e"/>
<rect x="1280" y="1140" width="40" height="40" fill="#525252"/>
<rect x="1320" y="1140" width="40" height="40" fill="#363636"/>
<rect x="1360" y="1140" width="40" height="40" fill="#2d2d2d"/>
<rect x="1400" y="1140" width="80" height="40" fill="#363636"/>
<rect x="1480" y="1140" width="200" height="40" fill="#444444"/>
<rect x="840" y="1180" width="160" height="120" fill="#5e5e5e"/>
<rect x="1000" y="1180" width="40" height="120" fill="#636363"/>
<rect x="1040" y="1180" width="40" height="120" fill="#717171"/>
<rect x="1080" y="1180" width="80" height="120" fill="#797979"/>
<rect x="1160" y="1180" width="40" height="120" fill="#666666"/>
<rect x="1200" y="1180" width="80" height="120" fill="#525252"/>
<rect x="1280" y="1180" width="40" height="120" fill="#444444"/>
<rect x="1320" y="1180" width="40" height="120" fill="#363636"/>
<rect x="1360" y="1180" width="40" height="120" fill="#2d2d2d"/>
<rect x="1400" y="1180" width="80" height="120" fill="#363636"/>
<rect x="1480" y="1180" width="200" height="120" fill="#444444"/>
</g>
<path d="M1296 728 C1330 745 1400 768 1470 786" fill="none" stroke="#ff4a00" stroke-width="9" stroke-linecap="round" opacity="0.55" filter="url(#sb)"/>
<use href="#riv"/>
</g>
<polygon points="1020.7,115.2 1574.5,115.9 1517.2,1202.3 938.7,1202.3" fill="none" stroke="#000" stroke-width="4" stroke-linejoin="miter"/>
<use href="#obs"/>
<g clip-path="url(#mc)" opacity="0.72"><use href="#riv"/></g>
</g>
<g transform="translate(0,0)">
<g clip-path="url(#mc)"><g filter="url(#hb)" shape-rendering="crispEdges">
<rect x="840" y="20" width="240" height="120" fill="#838383"/>
<rect x="1080" y="20" width="40" height="120" fill="#808080"/>
<rect x="1120" y="20" width="40" height="120" fill="#7b7b7b"/>
<rect x="1160" y="20" width="40" height="120" fill="#808080"/>
<rect x="1200" y="20" width="40" height="120" fill="#888888"/>
<rect x="1240" y="20" width="40" height="120" fill="#919191"/>
<rect x="1280" y="20" width="40" height="120" fill="#969696"/>
<rect x="1320" y="20" width="40" height="120" fill="#9d9d9d"/>
<rect x="1360" y="20" width="40" height="120" fill="#a8a8a8"/>
<rect x="1400" y="20" width="40" height="120" fill="#c1c1c1"/>
<rect x="1440" y="20" width="40" height="120" fill="#c7c7c7"/>
<rect x="1480" y="20" width="40" height="120" fill="#cdcdcd"/>
<rect x="1520" y="20" width="40" height="120" fill="#dddddd"/>
<rect x="1560" y="20" width="120" height="120" fill="#e3e3e3"/>
<rect x="840" y="140" width="240" height="40" fill="#808080"/>
<rect x="1080" y="140" width="40" height="40" fill="#797979"/>
<rect x="1120" y="140" width="40" height="40" fill="#717171"/>
<rect x="1160" y="140" width="40" height="40" fill="#757575"/>
<rect x="1200" y="140" width="40" height="40" fill="#838383"/>
<rect x="1240" y="140" width="40" height="40" fill="#919191"/>
<rect x="1280" y="140" width="80" height="40" fill="#969696"/>
<rect x="1360" y="140" width="40" height="40" fill="#a8a8a8"/>
<rect x="1400" y="140" width="80" height="40" fill="#c1c1c1"/>
<rect x="1480" y="140" width="40" height="40" fill="#c7c7c7"/>
<rect x="1520" y="140" width="40" height="40" fill="#dddddd"/>
<rect x="1560" y="140" width="120" height="40" fill="#e9e9e9"/>
<rect x="840" y="180" width="200" height="40" fill="#808080"/>
<rect x="1040" y="180" width="40" height="40" fill="#797979"/>
<rect x="1080" y="180" width="40" height="40" fill="#757575"/>
<rect x="1120" y="180" width="80" height="40" fill="#6b6b6b"/>
<rect x="1200" y="180" width="40" height="40" fill="#808080"/>
<rect x="1240" y="180" width="40" height="40" fill="#919191"/>
<rect x="1280" y="180" width="40" height="40" fill="#989898"/>
<rect x="1320" y="180" width="40" height="40" fill="#969696"/>
<rect x="1360" y="180" width="40" height="40" fill="#a4a4a4"/>
<rect x="1400" y="180" width="40" height="40" fill="#b8b8b8"/>
<rect x="1440" y="180" width="40" height="40" fill="#c1c1c1"/>
<rect x="1480" y="180" width="40" height="40" fill="#d5d5d5"/>
<rect x="1520" y="180" width="160" height="40" fill="#ebebeb"/>
<rect x="840" y="220" width="200" height="40" fill="#808080"/>
<rect x="1040" y="220" width="40" height="40" fill="#7b7b7b"/>
<rect x="1080" y="220" width="40" height="40" fill="#757575"/>
<rect x="1120" y="220" width="40" height="40" fill="#6b6b6b"/>
<rect x="1160" y="220" width="40" height="40" fill="#666666"/>
<rect x="1200" y="220" width="40" height="40" fill="#757575"/>
<rect x="1240" y="220" width="40" height="40" fill="#888888"/>
<rect x="1280" y="220" width="80" height="40" fill="#969696"/>
<rect x="1360" y="220" width="40" height="40" fill="#949494"/>
<rect x="1400" y="220" width="40" height="40" fill="#9d9d9d"/>
<rect x="1440" y="220" width="40" height="40" fill="#b8b8b8"/>
<rect x="1480" y="220" width="40" height="40" fill="#e3e3e3"/>
<rect x="1520" y="220" width="40" height="40" fill="#f9f9f9"/>
<rect x="1560" y="220" width="120" height="40" fill="#f1f1f1"/>
<rect x="840" y="260" width="200" height="40" fill="#808080"/>
<rect x="1040" y="260" width="40" height="40" fill="#7b7b7b"/>
<rect x="1080" y="260" width="40" height="40" fill="#757575"/>
<rect x="1120" y="260" width="80" height="40" fill="#666666"/>
<rect x="1200" y="260" width="40" height="40" fill="#6f6f6f"/>
<rect x="1240" y="260" width="40" height="40" fill="#808080"/>
<rect x="1280" y="260" width="40" height="40" fill="#888888"/>
<rect x="1320" y="260" width="40" height="40" fill="#919191"/>
<rect x="1360" y="260" width="40" height="40" fill="#8c8c8c"/>
<rect x="1400" y="260" width="40" height="40" fill="#949494"/>
<rect x="1440" y="260" width="40" height="40" fill="#b8b8b8"/>
<rect x="1480" y="260" width="40" height="40" fill="#dddddd"/>
<rect x="1520" y="260" width="40" height="40" fill="#f1f1f1"/>
<rect x="1560" y="260" width="120" height="40" fill="#e3e3e3"/>
<rect x="840" y="300" width="200" height="40" fill="#888888"/>
<rect x="1040" y="300" width="40" height="40" fill="#808080"/>
<rect x="1080" y="300" width="40" height="40" fill="#6b6b6b"/>
<rect x="1120" y="300" width="40" height="40" fill="#666666"/>
<rect x="1160" y="300" width="40" height="40" fill="#6b6b6b"/>
<rect x="1200" y="300" width="40" height="40" fill="#6f6f6f"/>
<rect x="1240" y="300" width="40" height="40" fill="#757575"/>
<rect x="1280" y="300" width="40" height="40" fill="#7b7b7b"/>
<rect x="1320" y="300" width="80" height="40" fill="#808080"/>
<rect x="1400" y="300" width="40" height="40" fill="#888888"/>
<rect x="1440" y="300" width="40" height="40" fill="#a4a4a4"/>
<rect x="1480" y="300" width="40" height="40" fill="#c1c1c1"/>
<rect x="1520" y="300" width="160" height="40" fill="#d5d5d5"/>
<rect x="840" y="340" width="200" height="40" fill="#919191"/>
<rect x="1040" y="340" width="40" height="40" fill="#838383"/>
<rect x="1080" y="340" width="40" height="40" fill="#757575"/>
<rect x="1120" y="340" width="40" height="40" fill="#5e5e5e"/>
<rect x="1160" y="340" width="40" height="40" fill="#4c4c4c"/>
<rect x="1200" y="340" width="40" height="40" fill="#525252"/>
<rect x="1240" y="340" width="40" height="40" fill="#5e5e5e"/>
<rect x="1280" y="340" width="40" height="40" fill="#6b6b6b"/>
<rect x="1320" y="340" width="40" height="40" fill="#6f6f6f"/>
<rect x="1360" y="340" width="40" height="40" fill="#757575"/>
<rect x="1400" y="340" width="40" height="40" fill="#808080"/>
<rect x="1440" y="340" width="40" height="40" fill="#9f9f9f"/>
<rect x="1480" y="340" width="40" height="40" fill="#b8b8b8"/>
<rect x="1520" y="340" width="160" height="40" fill="#c7c7c7"/>
<rect x="840" y="380" width="200" height="40" fill="#969696"/>
<rect x="1040" y="380" width="40" height="40" fill="#838383"/>
<rect x="1080" y="380" width="40" height="40" fill="#757575"/>
<rect x="1120" y="380" width="40" height="40" fill="#666666"/>
<rect x="1160" y="380" width="40" height="40" fill="#3b3b3b"/>
<rect x="1200" y="380" width="40" height="40" fill="#303030"/>
<rect x="1240" y="380" width="40" height="40" fill="#444444"/>
<rect x="1280" y="380" width="40" height="40" fill="#525252"/>
<rect x="1320" y="380" width="40" height="40" fill="#6b6b6b"/>
<rect x="1360" y="380" width="40" height="40" fill="#7b7b7b"/>
<rect x="1400" y="380" width="40" height="40" fill="#888888"/>
<rect x="1440" y="380" width="40" height="40" fill="#9d9d9d"/>
<rect x="1480" y="380" width="80" height="40" fill="#aeaeae"/>
<rect x="1560" y="380" width="120" height="40" fill="#a8a8a8"/>
<rect x="840" y="420" width="160" height="40" fill="#919191"/>
<rect x="1000" y="420" width="40" height="40" fill="#969696"/>
<rect x="1040" y="420" width="40" height="40" fill="#888888"/>
<rect x="1080" y="420" width="40" height="40" fill="#7b7b7b"/>
<rect x="1120" y="420" width="40" height="40" fill="#6b6b6b"/>
<rect x="1160" y="420" width="40" height="40" fill="#4c4c4c"/>
<rect x="1200" y="420" width="80" height="40" fill="#282828"/>
<rect x="1280" y="420" width="40" height="40" fill="#3b3b3b"/>
<rect x="1320" y="420" width="40" height="40" fill="#5e5e5e"/>
<rect x="1360" y="420" width="40" height="40" fill="#808080"/>
<rect x="1400" y="420" width="40" height="40" fill="#838383"/>
<rect x="1440" y="420" width="80" height="40" fill="#888888"/>
<rect x="1520" y="420" width="160" height="40" fill="#919191"/>
<rect x="840" y="460" width="160" height="40" fill="#919191"/>
<rect x="1000" y="460" width="40" height="40" fill="#9d9d9d"/>
<rect x="1040" y="460" width="40" height="40" fill="#919191"/>
<rect x="1080" y="460" width="40" height="40" fill="#808080"/>
<rect x="1120" y="460" width="40" height="40" fill="#6f6f6f"/>
<rect x="1160" y="460" width="40" height="40" fill="#575757"/>
<rect x="1200" y="460" width="40" height="40" fill="#363636"/>
<rect x="1240" y="460" width="40" height="40" fill="#1f1f1f"/>
<rect x="1280" y="460" width="40" height="40" fill="#282828"/>
<rect x="1320" y="460" width="40" height="40" fill="#525252"/>
<rect x="1360" y="460" width="80" height="40" fill="#808080"/>
<rect x="1440" y="460" width="40" height="40" fill="#6f6f6f"/>
<rect x="1480" y="460" width="40" height="40" fill="#5e5e5e"/>
<rect x="1520" y="460" width="40" height="40" fill="#6b6b6b"/>
<rect x="1560" y="460" width="120" height="40" fill="#757575"/>
<rect x="840" y="500" width="160" height="40" fill="#808080"/>
<rect x="1000" y="500" width="80" height="40" fill="#888888"/>
<rect x="1080" y="500" width="40" height="40" fill="#808080"/>
<rect x="1120" y="500" width="40" height="40" fill="#888888"/>
<rect x="1160" y="500" width="40" height="40" fill="#808080"/>
<rect x="1200" y="500" width="40" height="40" fill="#6f6f6f"/>
<rect x="1240" y="500" width="40" height="40" fill="#525252"/>
<rect x="1280" y="500" width="40" height="40" fill="#363636"/>
<rect x="1320" y="500" width="40" height="40" fill="#5e5e5e"/>
<rect x="1360" y="500" width="80" height="40" fill="#7b7b7b"/>
<rect x="1440" y="500" width="40" height="40" fill="#6f6f6f"/>
<rect x="1480" y="500" width="80" height="40" fill="#666666"/>
<rect x="1560" y="500" width="120" height="40" fill="#6b6b6b"/>
<rect x="840" y="540" width="200" height="40" fill="#6f6f6f"/>
<rect x="1040" y="540" width="40" height="40" fill="#757575"/>
<rect x="1080" y="540" width="40" height="40" fill="#808080"/>
<rect x="1120" y="540" width="40" height="40" fill="#838383"/>
<rect x="1160" y="540" width="40" height="40" fill="#808080"/>
<rect x="1200" y="540" width="40" height="40" fill="#6f6f6f"/>
<rect x="1240" y="540" width="80" height="40" fill="#6b6b6b"/>
<rect x="1320" y="540" width="40" height="40" fill="#808080"/>
<rect x="1360" y="540" width="40" height="40" fill="#838383"/>
<rect x="1400" y="540" width="40" height="40" fill="#757575"/>
<rect x="1440" y="540" width="40" height="40" fill="#6b6b6b"/>
<rect x="1480" y="540" width="40" height="40" fill="#5e5e5e"/>
<rect x="1520" y="540" width="40" height="40" fill="#666666"/>
<rect x="1560" y="540" width="120" height="40" fill="#6b6b6b"/>
<rect x="840" y="580" width="160" height="40" fill="#575757"/>
<rect x="1000" y="580" width="40" height="40" fill="#494949"/>
<rect x="1040" y="580" width="40" height="40" fill="#575757"/>
<rect x="1080" y="580" width="40" height="40" fill="#696969"/>
<rect x="1120" y="580" width="40" height="40" fill="#6f6f6f"/>
<rect x="1160" y="580" width="40" height="40" fill="#757575"/>
<rect x="1200" y="580" width="40" height="40" fill="#7b7b7b"/>
<rect x="1240" y="580" width="40" height="40" fill="#8a8a8a"/>
<rect x="1280" y="580" width="40" height="40" fill="#9b9b9b"/>
<rect x="1320" y="580" width="40" height="40" fill="#9f9f9f"/>
<rect x="1360" y="580" width="40" height="40" fill="#8e8e8e"/>
<rect x="1400" y="580" width="40" height="40" fill="#757575"/>
<rect x="1440" y="580" width="80" height="40" fill="#666666"/>
<rect x="1520" y="580" width="160" height="40" fill="#6b6b6b"/>
<rect x="840" y="620" width="200" height="40" fill="#2d2d2d"/>
<rect x="1040" y="620" width="40" height="40" fill="#494949"/>
<rect x="1080" y="620" width="40" height="40" fill="#5e5e5e"/>
<rect x="1120" y="620" width="40" height="40" fill="#696969"/>
<rect x="1160" y="620" width="40" height="40" fill="#757575"/>
<rect x="1200" y="620" width="40" height="40" fill="#808080"/>
<rect x="1240" y="620" width="40" height="40" fill="#969696"/>
<rect x="1280" y="620" width="80" height="40" fill="#aeaeae"/>
<rect x="1360" y="620" width="40" height="40" fill="#838383"/>
<rect x="1400" y="620" width="40" height="40" fill="#6f6f6f"/>
<rect x="1440" y="620" width="40" height="40" fill="#5e5e5e"/>
<rect x="1480" y="620" width="40" height="40" fill="#666666"/>
<rect x="1520" y="620" width="160" height="40" fill="#6b6b6b"/>
<rect x="840" y="660" width="160" height="40" fill="#171717"/>
<rect x="1000" y="660" width="40" height="40" fill="#2d2d2d"/>
<rect x="1040" y="660" width="80" height="40" fill="#494949"/>
<rect x="1120" y="660" width="40" height="40" fill="#5e5e5e"/>
<rect x="1160" y="660" width="40" height="40" fill="#757575"/>
<rect x="1200" y="660" width="40" height="40" fill="#808080"/>
<rect x="1240" y="660" width="40" height="40" fill="#9f9f9f"/>
<rect x="1280" y="660" width="40" height="40" fill="#b5b5b5"/>
<rect x="1320" y="660" width="40" height="40" fill="#a6a6a6"/>
<rect x="1360" y="660" width="40" height="40" fill="#808080"/>
<rect x="1400" y="660" width="40" height="40" fill="#666666"/>
<rect x="1440" y="660" width="40" height="40" fill="#575757"/>
<rect x="1480" y="660" width="200" height="40" fill="#5e5e5e"/>
<rect x="840" y="700" width="160" height="40" fill="#1f1f1f"/>
<rect x="1000" y="700" width="40" height="40" fill="#2d2d2d"/>
<rect x="1040" y="700" width="40" height="40" fill="#444444"/>
<rect x="1080" y="700" width="40" height="40" fill="#494949"/>
<rect x="1120" y="700" width="40" height="40" fill="#575757"/>
<rect x="1160" y="700" width="40" height="40" fill="#6b6b6b"/>
<rect x="1200" y="700" width="40" height="40" fill="#757575"/>
<rect x="1240" y="700" width="40" height="40" fill="#8a8a8a"/>
<rect x="1280" y="700" width="40" height="40" fill="#b5b5b5"/>
<rect x="1320" y="700" width="40" height="40" fill="#a6a6a6"/>
<rect x="1360" y="700" width="40" height="40" fill="#838383"/>
<rect x="1400" y="700" width="40" height="40" fill="#7b7b7b"/>
<rect x="1440" y="700" width="40" height="40" fill="#757575"/>
<rect x="1480" y="700" width="40" height="40" fill="#6b6b6b"/>
<rect x="1520" y="700" width="160" height="40" fill="#525252"/>
<rect x="840" y="740" width="160" height="40" fill="#2d2d2d"/>
<rect x="1000" y="740" width="40" height="40" fill="#3b3b3b"/>
<rect x="1040" y="740" width="40" height="40" fill="#494949"/>
<rect x="1080" y="740" width="80" height="40" fill="#575757"/>
<rect x="1160" y="740" width="40" height="40" fill="#5e5e5e"/>
<rect x="1200" y="740" width="40" height="40" fill="#6b6b6b"/>
<rect x="1240" y="740" width="40" height="40" fill="#838383"/>
<rect x="1280" y="740" width="80" height="40" fill="#9b9b9b"/>
<rect x="1360" y="740" width="40" height="40" fill="#808080"/>
<rect x="1400" y="740" width="80" height="40" fill="#838383"/>
<rect x="1480" y="740" width="40" height="40" fill="#808080"/>
<rect x="1520" y="740" width="160" height="40" fill="#525252"/>
<rect x="840" y="780" width="160" height="40" fill="#3b3b3b"/>
<rect x="1000" y="780" width="40" height="40" fill="#494949"/>
<rect x="1040" y="780" width="40" height="40" fill="#5e5e5e"/>
<rect x="1080" y="780" width="40" height="40" fill="#696969"/>
<rect x="1120" y="780" width="40" height="40" fill="#6f6f6f"/>
<rect x="1160" y="780" width="40" height="40" fill="#7b7b7b"/>
<rect x="1200" y="780" width="40" height="40" fill="#757575"/>
<rect x="1240" y="780" width="40" height="40" fill="#666666"/>
<rect x="1280" y="780" width="80" height="40" fill="#5e5e5e"/>
<rect x="1360" y="780" width="40" height="40" fill="#6b6b6b"/>
<rect x="1400" y="780" width="120" height="40" fill="#808080"/>
<rect x="1520" y="780" width="160" height="40" fill="#525252"/>
<rect x="840" y="820" width="160" height="40" fill="#494949"/>
<rect x="1000" y="820" width="40" height="40" fill="#575757"/>
<rect x="1040" y="820" width="40" height="40" fill="#636363"/>
<rect x="1080" y="820" width="40" height="40" fill="#696969"/>
<rect x="1120" y="820" width="40" height="40" fill="#6f6f6f"/>
<rect x="1160" y="820" width="40" height="40" fill="#7b7b7b"/>
<rect x="1200" y="820" width="40" height="40" fill="#757575"/>
<rect x="1240" y="820" width="40" height="40" fill="#5e5e5e"/>
<rect x="1280" y="820" width="120" height="40" fill="#525252"/>
<rect x="1400" y="820" width="40" height="40" fill="#5e5e5e"/>
<rect x="1440" y="820" width="80" height="40" fill="#6b6b6b"/>
<rect x="1520" y="820" width="160" height="40" fill="#525252"/>
<rect x="840" y="860" width="160" height="40" fill="#464646"/>
<rect x="1000" y="860" width="40" height="40" fill="#545454"/>
<rect x="1040" y="860" width="40" height="40" fill="#616161"/>
<rect x="1080" y="860" width="40" height="40" fill="#5c5c5c"/>
<rect x="1120" y="860" width="40" height="40" fill="#616161"/>
<rect x="1160" y="860" width="40" height="40" fill="#666666"/>
<rect x="1200" y="860" width="40" height="40" fill="#5c5c5c"/>
<rect x="1240" y="860" width="40" height="40" fill="#464646"/>
<rect x="1280" y="860" width="120" height="40" fill="#414141"/>
<rect x="1400" y="860" width="40" height="40" fill="#464646"/>
<rect x="1440" y="860" width="40" height="40" fill="#4c4c4c"/>
<rect x="1480" y="860" width="200" height="40" fill="#464646"/>
<rect x="840" y="900" width="160" height="40" fill="#464646"/>
<rect x="1000" y="900" width="40" height="40" fill="#4c4c4c"/>
<rect x="1040" y="900" width="40" height="40" fill="#545454"/>
<rect x="1080" y="900" width="40" height="40" fill="#5c5c5c"/>
<rect x="1120" y="900" width="40" height="40" fill="#545454"/>
<rect x="1160" y="900" width="320" height="40" fill="#464646"/>
<rect x="1480" y="900" width="40" height="40" fill="#414141"/>
<rect x="1520" y="900" width="160" height="40" fill="#464646"/>
<rect x="840" y="940" width="120" height="40" fill="#383838"/>
<rect x="960" y="940" width="40" height="40" fill="#303030"/>
<rect x="1000" y="940" width="40" height="40" fill="#2a2a2a"/>
<rect x="1040" y="940" width="40" height="40" fill="#414141"/>
<rect x="1080" y="940" width="40" height="40" fill="#545454"/>
<rect x="1120" y="940" width="40" height="40" fill="#464646"/>
<rect x="1160" y="940" width="40" height="40" fill="#303030"/>
<rect x="1200" y="940" width="40" height="40" fill="#252525"/>
<rect x="1240" y="940" width="80" height="40" fill="#141414"/>
<rect x="1320" y="940" width="40" height="40" fill="#1c1c1c"/>
<rect x="1360" y="940" width="40" height="40" fill="#303030"/>
<rect x="1400" y="940" width="40" height="40" fill="#414141"/>
<rect x="1440" y="940" width="80" height="40" fill="#464646"/>
<rect x="1520" y="940" width="160" height="40" fill="#383838"/>
<rect x="840" y="980" width="160" height="40" fill="#303030"/>
<rect x="1000" y="980" width="40" height="40" fill="#414141"/>
<rect x="1040" y="980" width="40" height="40" fill="#4c4c4c"/>
<rect x="1080" y="980" width="40" height="40" fill="#464646"/>
<rect x="1120" y="980" width="40" height="40" fill="#414141"/>
<rect x="1160" y="980" width="40" height="40" fill="#2a2a2a"/>
<rect x="1200" y="980" width="40" height="40" fill="#1c1c1c"/>
<rect x="1240" y="980" width="80" height="40" fill="#0f0f0f"/>
<rect x="1320" y="980" width="40" height="40" fill="#1c1c1c"/>
<rect x="1360" y="980" width="40" height="40" fill="#383838"/>
<rect x="1400" y="980" width="40" height="40" fill="#464646"/>
<rect x="1440" y="980" width="40" height="40" fill="#5c5c5c"/>
<rect x="1480" y="980" width="40" height="40" fill="#545454"/>
<rect x="1520" y="980" width="160" height="40" fill="#414141"/>
<rect x="840" y="1020" width="120" height="40" fill="#464646"/>
<rect x="960" y="1020" width="40" height="40" fill="#545454"/>
<rect x="1000" y="1020" width="40" height="40" fill="#5c5c5c"/>
<rect x="1040" y="1020" width="40" height="40" fill="#4c4c4c"/>
<rect x="1080" y="1020" width="40" height="40" fill="#464646"/>
<rect x="1120" y="1020" width="40" height="40" fill="#414141"/>
<rect x="1160" y="1020" width="40" height="40" fill="#303030"/>
<rect x="1200" y="1020" width="40" height="40" fill="#252525"/>
<rect x="1240" y="1020" width="40" height="40" fill="#1c1c1c"/>
<rect x="1280" y="1020" width="40" height="40" fill="#141414"/>
<rect x="1320" y="1020" width="40" height="40" fill="#1c1c1c"/>
<rect x="1360" y="1020" width="40" height="40" fill="#383838"/>
<rect x="1400" y="1020" width="40" height="40" fill="#4c4c4c"/>
<rect x="1440" y="1020" width="40" height="40" fill="#5c5c5c"/>
<rect x="1480" y="1020" width="40" height="40" fill="#545454"/>
<rect x="1520" y="1020" width="160" height="40" fill="#464646"/>
<rect x="840" y="1060" width="120" height="40" fill="#545454"/>
<rect x="960" y="1060" width="40" height="40" fill="#616161"/>
<rect x="1000" y="1060" width="40" height="40" fill="#545454"/>
<rect x="1040" y="1060" width="40" height="40" fill="#464646"/>
<rect x="1080" y="1060" width="80" height="40" fill="#414141"/>
<rect x="1160" y="1060" width="40" height="40" fill="#383838"/>
<rect x="1200" y="1060" width="40" height="40" fill="#2a2a2a"/>
<rect x="1240" y="1060" width="40" height="40" fill="#1c1c1c"/>
<rect x="1280" y="1060" width="80" height="40" fill="#0f0f0f"/>
<rect x="1360" y="1060" width="40" height="40" fill="#2a2a2a"/>
<rect x="1400" y="1060" width="40" height="40" fill="#464646"/>
<rect x="1440" y="1060" width="80" height="40" fill="#545454"/>
<rect x="1520" y="1060" width="160" height="40" fill="#464646"/>
<rect x="840" y="1100" width="120" height="40" fill="#545454"/>
<rect x="960" y="1100" width="40" height="40" fill="#4c4c4c"/>
<rect x="1000" y="1100" width="40" height="40" fill="#464646"/>
<rect x="1040" y="1100" width="40" height="40" fill="#414141"/>
<rect x="1080" y="1100" width="40" height="40" fill="#464646"/>
<rect x="1120" y="1100" width="40" height="40" fill="#4c4c4c"/>
<rect x="1160" y="1100" width="40" height="40" fill="#464646"/>
<rect x="1200" y="1100" width="40" height="40" fill="#2a2a2a"/>
<rect x="1240" y="1100" width="40" height="40" fill="#141414"/>
<rect x="1280" y="1100" width="80" height="40" fill="#0a0a0a"/>
<rect x="1360" y="1100" width="40" height="40" fill="#141414"/>
<rect x="1400" y="1100" width="40" height="40" fill="#2a2a2a"/>
<rect x="1440" y="1100" width="40" height="40" fill="#383838"/>
<rect x="1480" y="1100" width="200" height="40" fill="#414141"/>
<rect x="840" y="1140" width="120" height="40" fill="#545454"/>
<rect x="960" y="1140" width="40" height="40" fill="#5c5c5c"/>
<rect x="1000" y="1140" width="40" height="40" fill="#545454"/>
<rect x="1040" y="1140" width="40" height="40" fill="#4c4c4c"/>
<rect x="1080" y="1140" width="40" height="40" fill="#464646"/>
<rect x="1120" y="1140" width="40" height="40" fill="#4c4c4c"/>
<rect x="1160" y="1140" width="40" height="40" fill="#414141"/>
<rect x="1200" y="1140" width="40" height="40" fill="#2a2a2a"/>
<rect x="1240" y="1140" width="40" height="40" fill="#252525"/>
<rect x="1280" y="1140" width="40" height="40" fill="#141414"/>
<rect x="1320" y="1140" width="40" height="40" fill="#0a0a0a"/>
<rect x="1360" y="1140" width="40" height="40" fill="#0f0f0f"/>
<rect x="1400" y="1140" width="40" height="40" fill="#1c1c1c"/>
<rect x="1440" y="1140" width="40" height="40" fill="#2a2a2a"/>
<rect x="1480" y="1140" width="200" height="40" fill="#383838"/>
<rect x="840" y="1180" width="120" height="120" fill="#464646"/>
<rect x="960" y="1180" width="80" height="120" fill="#4c4c4c"/>
<rect x="1040" y="1180" width="120" height="120" fill="#464646"/>
<rect x="1160" y="1180" width="40" height="120" fill="#414141"/>
<rect x="1200" y="1180" width="80" height="120" fill="#2a2a2a"/>
<rect x="1280" y="1180" width="40" height="120" fill="#1c1c1c"/>
<rect x="1320" y="1180" width="80" height="120" fill="#0a0a0a"/>
<rect x="1400" y="1180" width="40" height="120" fill="#141414"/>
<rect x="1440" y="1180" width="40" height="120" fill="#2a2a2a"/>
<rect x="1480" y="1180" width="200" height="120" fill="#383838"/>
</g>
<use href="#riv"/>
</g>
<polygon points="1020.7,115.2 1574.5,115.9 1517.2,1202.3 938.7,1202.3" fill="none" stroke="#000" stroke-width="4" stroke-linejoin="miter"/>
<use href="#obs"/>
<g clip-path="url(#mc)" opacity="0.72"><use href="#riv"/></g>
</g>
<g transform="translate(-691.5,1228.6)">
<g clip-path="url(#mc)"><g filter="url(#hc)" shape-rendering="crispEdges">
<rect x="840" y="20" width="240" height="120" fill="#888888"/>
<rect x="1080" y="20" width="40" height="120" fill="#808080"/>
<rect x="1120" y="20" width="40" height="120" fill="#757575"/>
<rect x="1160" y="20" width="80" height="120" fill="#6f6f6f"/>
<rect x="1240" y="20" width="40" height="120" fill="#808080"/>
<rect x="1280" y="20" width="40" height="120" fill="#757575"/>
<rect x="1320" y="20" width="40" height="120" fill="#838383"/>
<rect x="1360" y="20" width="40" height="120" fill="#9d9d9d"/>
<rect x="1400" y="20" width="40" height="120" fill="#c1c1c1"/>
<rect x="1440" y="20" width="40" height="120" fill="#cdcdcd"/>
<rect x="1480" y="20" width="40" height="120" fill="#d5d5d5"/>
<rect x="1520" y="20" width="40" height="120" fill="#f1f1f1"/>
<rect x="1560" y="20" width="120" height="120" fill="#969696"/>
<rect x="840" y="140" width="240" height="40" fill="#888888"/>
<rect x="1080" y="140" width="40" height="40" fill="#808080"/>
<rect x="1120" y="140" width="40" height="40" fill="#757575"/>
<rect x="1160" y="140" width="40" height="40" fill="#6f6f6f"/>
<rect x="1200" y="140" width="40" height="40" fill="#757575"/>
<rect x="1240" y="140" width="40" height="40" fill="#838383"/>
<rect x="1280" y="140" width="40" height="40" fill="#6f6f6f"/>
<rect x="1320" y="140" width="40" height="40" fill="#838383"/>
<rect x="1360" y="140" width="40" height="40" fill="#9d9d9d"/>
<rect x="1400" y="140" width="40" height="40" fill="#c1c1c1"/>
<rect x="1440" y="140" width="40" height="40" fill="#c7c7c7"/>
<rect x="1480" y="140" width="40" height="40" fill="#dddddd"/>
<rect x="1520" y="140" width="40" height="40" fill="#ffffff"/>
<rect x="1560" y="140" width="120" height="40" fill="#969696"/>
<rect x="840" y="180" width="200" height="40" fill="#808080"/>
<rect x="1040" y="180" width="40" height="40" fill="#757575"/>
<rect x="1080" y="180" width="120" height="40" fill="#6f6f6f"/>
<rect x="1200" y="180" width="40" height="40" fill="#7b7b7b"/>
<rect x="1240" y="180" width="40" height="40" fill="#888888"/>
<rect x="1280" y="180" width="40" height="40" fill="#808080"/>
<rect x="1320" y="180" width="40" height="40" fill="#888888"/>
<rect x="1360" y="180" width="40" height="40" fill="#919191"/>
<rect x="1400" y="180" width="40" height="40" fill="#aeaeae"/>
<rect x="1440" y="180" width="40" height="40" fill="#c1c1c1"/>
<rect x="1480" y="180" width="40" height="40" fill="#e3e3e3"/>
<rect x="1520" y="180" width="40" height="40" fill="#ffffff"/>
<rect x="1560" y="180" width="120" height="40" fill="#969696"/>
<rect x="840" y="220" width="200" height="40" fill="#7b7b7b"/>
<rect x="1040" y="220" width="80" height="40" fill="#6f6f6f"/>
<rect x="1120" y="220" width="40" height="40" fill="#757575"/>
<rect x="1160" y="220" width="40" height="40" fill="#666666"/>
<rect x="1200" y="220" width="40" height="40" fill="#7b7b7b"/>
<rect x="1240" y="220" width="40" height="40" fill="#808080"/>
<rect x="1280" y="220" width="40" height="40" fill="#838383"/>
<rect x="1320" y="220" width="80" height="40" fill="#888888"/>
<rect x="1400" y="220" width="40" height="40" fill="#a8a8a8"/>
<rect x="1440" y="220" width="40" height="40" fill="#c1c1c1"/>
<rect x="1480" y="220" width="40" height="40" fill="#e9e9e9"/>
<rect x="1520" y="220" width="40" height="40" fill="#ffffff"/>
<rect x="1560" y="220" width="120" height="40" fill="#969696"/>
<rect x="840" y="260" width="200" height="40" fill="#808080"/>
<rect x="1040" y="260" width="40" height="40" fill="#7b7b7b"/>
<rect x="1080" y="260" width="80" height="40" fill="#757575"/>
<rect x="1160" y="260" width="40" height="40" fill="#5e5e5e"/>
<rect x="1200" y="260" width="40" height="40" fill="#6f6f6f"/>
<rect x="1240" y="260" width="40" height="40" fill="#808080"/>
<rect x="1280" y="260" width="80" height="40" fill="#838383"/>
<rect x="1360" y="260" width="40" height="40" fill="#808080"/>
<rect x="1400" y="260" width="40" height="40" fill="#969696"/>
<rect x="1440" y="260" width="40" height="40" fill="#b8b8b8"/>
<rect x="1480" y="260" width="40" height="40" fill="#e9e9e9"/>
<rect x="1520" y="260" width="40" height="40" fill="#f9f9f9"/>
<rect x="1560" y="260" width="120" height="40" fill="#969696"/>
<rect x="840" y="300" width="200" height="40" fill="#838383"/>
<rect x="1040" y="300" width="40" height="40" fill="#808080"/>
<rect x="1080" y="300" width="40" height="40" fill="#7b7b7b"/>
<rect x="1120" y="300" width="40" height="40" fill="#6f6f6f"/>
<rect x="1160" y="300" width="40" height="40" fill="#5e5e5e"/>
<rect x="1200" y="300" width="40" height="40" fill="#6f6f6f"/>
<rect x="1240" y="300" width="80" height="40" fill="#808080"/>
<rect x="1320" y="300" width="40" height="40" fill="#757575"/>
<rect x="1360" y="300" width="40" height="40" fill="#7b7b7b"/>
<rect x="1400" y="300" width="40" height="40" fill="#888888"/>
<rect x="1440" y="300" width="40" height="40" fill="#9d9d9d"/>
<rect x="1480" y="300" width="40" height="40" fill="#d5d5d5"/>
<rect x="1520" y="300" width="40" height="40" fill="#f1f1f1"/>
<rect x="1560" y="300" width="120" height="40" fill="#969696"/>
<rect x="840" y="340" width="200" height="40" fill="#888888"/>
<rect x="1040" y="340" width="40" height="40" fill="#8e8e8e"/>
<rect x="1080" y="340" width="40" height="40" fill="#808080"/>
<rect x="1120" y="340" width="40" height="40" fill="#6b6b6b"/>
<rect x="1160" y="340" width="40" height="40" fill="#525252"/>
<rect x="1200" y="340" width="40" height="40" fill="#666666"/>
<rect x="1240" y="340" width="80" height="40" fill="#6f6f6f"/>
<rect x="1320" y="340" width="40" height="40" fill="#5e5e5e"/>
<rect x="1360" y="340" width="40" height="40" fill="#6b6b6b"/>
<rect x="1400" y="340" width="40" height="40" fill="#808080"/>
<rect x="1440" y="340" width="40" height="40" fill="#919191"/>
<rect x="1480" y="340" width="40" height="40" fill="#aeaeae"/>
<rect x="1520" y="340" width="40" height="40" fill="#c7c7c7"/>
<rect x="1560" y="340" width="120" height="40" fill="#969696"/>
<rect x="840" y="380" width="200" height="40" fill="#838383"/>
<rect x="1040" y="380" width="40" height="40" fill="#888888"/>
<rect x="1080" y="380" width="40" height="40" fill="#808080"/>
<rect x="1120" y="380" width="40" height="40" fill="#6b6b6b"/>
<rect x="1160" y="380" width="40" height="40" fill="#3b3b3b"/>
<rect x="1200" y="380" width="40" height="40" fill="#363636"/>
<rect x="1240" y="380" width="40" height="40" fill="#525252"/>
<rect x="1280" y="380" width="80" height="40" fill="#5e5e5e"/>
<rect x="1360" y="380" width="40" height="40" fill="#6f6f6f"/>
<rect x="1400" y="380" width="40" height="40" fill="#808080"/>
<rect x="1440" y="380" width="40" height="40" fill="#8e8e8e"/>
<rect x="1480" y="380" width="40" height="40" fill="#9d9d9d"/>
<rect x="1520" y="380" width="40" height="40" fill="#a4a4a4"/>
<rect x="1560" y="380" width="120" height="40" fill="#919191"/>
<rect x="840" y="420" width="200" height="40" fill="#808080"/>
<rect x="1040" y="420" width="40" height="40" fill="#7b7b7b"/>
<rect x="1080" y="420" width="40" height="40" fill="#6f6f6f"/>
<rect x="1120" y="420" width="40" height="40" fill="#666666"/>
<rect x="1160" y="420" width="40" height="40" fill="#4c4c4c"/>
<rect x="1200" y="420" width="40" height="40" fill="#1f1f1f"/>
<rect x="1240" y="420" width="40" height="40" fill="#282828"/>
<rect x="1280" y="420" width="40" height="40" fill="#3b3b3b"/>
<rect x="1320" y="420" width="40" height="40" fill="#525252"/>
<rect x="1360" y="420" width="40" height="40" fill="#808080"/>
<rect x="1400" y="420" width="40" height="40" fill="#8e8e8e"/>
<rect x="1440" y="420" width="40" height="40" fill="#888888"/>
<rect x="1480" y="420" width="200" height="40" fill="#808080"/>
<rect x="840" y="460" width="160" height="40" fill="#838383"/>
<rect x="1000" y="460" width="40" height="40" fill="#888888"/>
<rect x="1040" y="460" width="40" height="40" fill="#838383"/>
<rect x="1080" y="460" width="40" height="40" fill="#757575"/>
<rect x="1120" y="460" width="40" height="40" fill="#6b6b6b"/>
<rect x="1160" y="460" width="40" height="40" fill="#575757"/>
<rect x="1200" y="460" width="40" height="40" fill="#363636"/>
<rect x="1240" y="460" width="40" height="40" fill="#1a1a1a"/>
<rect x="1280" y="460" width="40" height="40" fill="#1f1f1f"/>
<rect x="1320" y="460" width="40" height="40" fill="#525252"/>
<rect x="1360" y="460" width="40" height="40" fill="#888888"/>
<rect x="1400" y="460" width="40" height="40" fill="#8e8e8e"/>
<rect x="1440" y="460" width="40" height="40" fill="#808080"/>
<rect x="1480" y="460" width="80" height="40" fill="#6f6f6f"/>
<rect x="1560" y="460" width="120" height="40" fill="#757575"/>
<rect x="840" y="500" width="200" height="40" fill="#757575"/>
<rect x="1040" y="500" width="40" height="40" fill="#7b7b7b"/>
<rect x="1080" y="500" width="40" height="40" fill="#757575"/>
<rect x="1120" y="500" width="80" height="40" fill="#808080"/>
<rect x="1200" y="500" width="40" height="40" fill="#6b6b6b"/>
<rect x="1240" y="500" width="40" height="40" fill="#444444"/>
<rect x="1280" y="500" width="40" height="40" fill="#363636"/>
<rect x="1320" y="500" width="40" height="40" fill="#6f6f6f"/>
<rect x="1360" y="500" width="80" height="40" fill="#808080"/>
<rect x="1440" y="500" width="40" height="40" fill="#757575"/>
<rect x="1480" y="500" width="200" height="40" fill="#6b6b6b"/>
<rect x="840" y="540" width="200" height="40" fill="#5e5e5e"/>
<rect x="1040" y="540" width="40" height="40" fill="#525252"/>
<rect x="1080" y="540" width="40" height="40" fill="#666666"/>
<rect x="1120" y="540" width="80" height="40" fill="#6f6f6f"/>
<rect x="1200" y="540" width="80" height="40" fill="#5e5e5e"/>
<rect x="1280" y="540" width="40" height="40" fill="#757575"/>
<rect x="1320" y="540" width="80" height="40" fill="#808080"/>
<rect x="1400" y="540" width="40" height="40" fill="#6f6f6f"/>
<rect x="1440" y="540" width="40" height="40" fill="#5e5e5e"/>
<rect x="1480" y="540" width="80" height="40" fill="#525252"/>
<rect x="1560" y="540" width="120" height="40" fill="#5e5e5e"/>
<rect x="840" y="580" width="160" height="40" fill="#444444"/>
<rect x="1000" y="580" width="80" height="40" fill="#3b3b3b"/>
<rect x="1080" y="580" width="40" height="40" fill="#525252"/>
<rect x="1120" y="580" width="40" height="40" fill="#5e5e5e"/>
<rect x="1160" y="580" width="40" height="40" fill="#6b6b6b"/>
<rect x="1200" y="580" width="40" height="40" fill="#6f6f6f"/>
<rect x="1240" y="580" width="40" height="40" fill="#7d7d7d"/>
<rect x="1280" y="580" width="40" height="40" fill="#909090"/>
<rect x="1320" y="580" width="40" height="40" fill="#969696"/>
<rect x="1360" y="580" width="40" height="40" fill="#808080"/>
<rect x="1400" y="580" width="40" height="40" fill="#5e5e5e"/>
<rect x="1440" y="580" width="240" height="40" fill="#525252"/>
<rect x="840" y="620" width="160" height="40" fill="#363636"/>
<rect x="1000" y="620" width="40" height="40" fill="#282828"/>
<rect x="1040" y="620" width="40" height="40" fill="#363636"/>
<rect x="1080" y="620" width="40" height="40" fill="#444444"/>
<rect x="1120" y="620" width="40" height="40" fill="#525252"/>
<rect x="1160" y="620" width="40" height="40" fill="#666666"/>
<rect x="1200" y="620" width="40" height="40" fill="#757575"/>
<rect x="1240" y="620" width="40" height="40" fill="#909090"/>
<rect x="1280" y="620" width="40" height="40" fill="#a6a6a6"/>
<rect x="1320" y="620" width="40" height="40" fill="#9f9f9f"/>
<rect x="1360" y="620" width="40" height="40" fill="#7b7b7b"/>
<rect x="1400" y="620" width="40" height="40" fill="#525252"/>
<rect x="1440" y="620" width="40" height="40" fill="#444444"/>
<rect x="1480" y="620" width="40" height="40" fill="#4c4c4c"/>
<rect x="1520" y="620" width="160" height="40" fill="#525252"/>
<rect x="840" y="660" width="160" height="40" fill="#282828"/>
<rect x="1000" y="660" width="40" height="40" fill="#363636"/>
<rect x="1040" y="660" width="40" height="40" fill="#4c4c4c"/>
<rect x="1080" y="660" width="80" height="40" fill="#444444"/>
<rect x="1160" y="660" width="40" height="40" fill="#5e5e5e"/>
<rect x="1200" y="660" width="40" height="40" fill="#808080"/>
<rect x="1240" y="660" width="40" height="40" fill="#9f9f9f"/>
<rect x="1280" y="660" width="40" height="40" fill="#b5b5b5"/>
<rect x="1320" y="660" width="40" height="40" fill="#9f9f9f"/>
<rect x="1360" y="660" width="40" height="40" fill="#757575"/>
<rect x="1400" y="660" width="40" height="40" fill="#525252"/>
<rect x="1440" y="660" width="40" height="40" fill="#444444"/>
<rect x="1480" y="660" width="200" height="40" fill="#525252"/>
<rect x="840" y="700" width="160" height="40" fill="#282828"/>
<rect x="1000" y="700" width="40" height="40" fill="#303030"/>
<rect x="1040" y="700" width="40" height="40" fill="#444444"/>
<rect x="1080" y="700" width="40" height="40" fill="#3b3b3b"/>
<rect x="1120" y="700" width="40" height="40" fill="#525252"/>
<rect x="1160" y="700" width="40" height="40" fill="#6b6b6b"/>
<rect x="1200" y="700" width="40" height="40" fill="#7b7b7b"/>
<rect x="1240" y="700" width="40" height="40" fill="#9b9b9b"/>
<rect x="1280" y="700" width="40" height="40" fill="#bbbbbb"/>
<rect x="1320" y="700" width="40" height="40" fill="#9f9f9f"/>
<rect x="1360" y="700" width="40" height="40" fill="#888888"/>
<rect x="1400" y="700" width="40" height="40" fill="#838383"/>
<rect x="1440" y="700" width="40" height="40" fill="#7b7b7b"/>
<rect x="1480" y="700" width="40" height="40" fill="#6b6b6b"/>
<rect x="1520" y="700" width="40" height="40" fill="#444444"/>
<rect x="1560" y="700" width="120" height="40" fill="#525252"/>
<rect x="840" y="740" width="160" height="40" fill="#303030"/>
<rect x="1000" y="740" width="40" height="40" fill="#3b3b3b"/>
<rect x="1040" y="740" width="40" height="40" fill="#575757"/>
<rect x="1080" y="740" width="40" height="40" fill="#6b6b6b"/>
<rect x="1120" y="740" width="40" height="40" fill="#6f6f6f"/>
<rect x="1160" y="740" width="40" height="40" fill="#757575"/>
<rect x="1200" y="740" width="40" height="40" fill="#808080"/>
<rect x="1240" y="740" width="40" height="40" fill="#8a8a8a"/>
<rect x="1280" y="740" width="80" height="40" fill="#9b9b9b"/>
<rect x="1360" y="740" width="40" height="40" fill="#919191"/>
<rect x="1400" y="740" width="40" height="40" fill="#969696"/>
<rect x="1440" y="740" width="40" height="40" fill="#888888"/>
<rect x="1480" y="740" width="40" height="40" fill="#757575"/>
<rect x="1520" y="740" width="40" height="40" fill="#444444"/>
<rect x="1560" y="740" width="120" height="40" fill="#525252"/>
<rect x="840" y="780" width="160" height="40" fill="#3b3b3b"/>
<rect x="1000" y="780" width="40" height="40" fill="#444444"/>
<rect x="1040" y="780" width="40" height="40" fill="#666666"/>
<rect x="1080" y="780" width="40" height="40" fill="#757575"/>
<rect x="1120" y="780" width="40" height="40" fill="#7b7b7b"/>
<rect x="1160" y="780" width="40" height="40" fill="#808080"/>
<rect x="1200" y="780" width="40" height="40" fill="#7b7b7b"/>
<rect x="1240" y="780" width="40" height="40" fill="#6b6b6b"/>
<rect x="1280" y="780" width="40" height="40" fill="#5e5e5e"/>
<rect x="1320" y="780" width="40" height="40" fill="#666666"/>
<rect x="1360" y="780" width="40" height="40" fill="#757575"/>
<rect x="1400" y="780" width="40" height="40" fill="#888888"/>
<rect x="1440" y="780" width="40" height="40" fill="#808080"/>
<rect x="1480" y="780" width="40" height="40" fill="#6b6b6b"/>
<rect x="1520" y="780" width="40" height="40" fill="#444444"/>
<rect x="1560" y="780" width="120" height="40" fill="#525252"/>
<rect x="840" y="820" width="160" height="40" fill="#444444"/>
<rect x="1000" y="820" width="40" height="40" fill="#525252"/>
<rect x="1040" y="820" width="40" height="40" fill="#5e5e5e"/>
<rect x="1080" y="820" width="40" height="40" fill="#6b6b6b"/>
<rect x="1120" y="820" width="80" height="40" fill="#7b7b7b"/>
<rect x="1200" y="820" width="40" height="40" fill="#6f6f6f"/>
<rect x="1240" y="820" width="40" height="40" fill="#5e5e5e"/>
<rect x="1280" y="820" width="40" height="40" fill="#4c4c4c"/>
<rect x="1320" y="820" width="40" height="40" fill="#444444"/>
<rect x="1360" y="820" width="40" height="40" fill="#525252"/>
<rect x="1400" y="820" width="80" height="40" fill="#5e5e5e"/>
<rect x="1480" y="820" width="40" height="40" fill="#525252"/>
<rect x="1520" y="820" width="160" height="40" fill="#3b3b3b"/>
<rect x="840" y="860" width="160" height="40" fill="#525252"/>
<rect x="1000" y="860" width="40" height="40" fill="#5e5e5e"/>
<rect x="1040" y="860" width="80" height="40" fill="#666666"/>
<rect x="1120" y="860" width="80" height="40" fill="#6f6f6f"/>
<rect x="1200" y="860" width="40" height="40" fill="#5e5e5e"/>
<rect x="1240" y="860" width="40" height="40" fill="#525252"/>
<rect x="1280" y="860" width="40" height="40" fill="#3b3b3b"/>
<rect x="1320" y="860" width="40" height="40" fill="#363636"/>
<rect x="1360" y="860" width="40" height="40" fill="#444444"/>
<rect x="1400" y="860" width="40" height="40" fill="#4c4c4c"/>
<rect x="1440" y="860" width="40" height="40" fill="#444444"/>
<rect x="1480" y="860" width="40" height="40" fill="#3b3b3b"/>
<rect x="1520" y="860" width="160" height="40" fill="#363636"/>
<rect x="840" y="900" width="160" height="40" fill="#464646"/>
<rect x="1000" y="900" width="200" height="40" fill="#4c4c4c"/>
<rect x="1200" y="900" width="40" height="40" fill="#464646"/>
<rect x="1240" y="900" width="40" height="40" fill="#3e3e3e"/>
<rect x="1280" y="900" width="80" height="40" fill="#363636"/>
<rect x="1360" y="900" width="80" height="40" fill="#303030"/>
<rect x="1440" y="900" width="80" height="40" fill="#2a2a2a"/>
<rect x="1520" y="900" width="160" height="40" fill="#303030"/>
<rect x="840" y="940" width="160" height="40" fill="#3e3e3e"/>
<rect x="1000" y="940" width="40" height="40" fill="#464646"/>
<rect x="1040" y="940" width="80" height="40" fill="#4c4c4c"/>
<rect x="1120" y="940" width="40" height="40" fill="#3e3e3e"/>
<rect x="1160" y="940" width="40" height="40" fill="#363636"/>
<rect x="1200" y="940" width="80" height="40" fill="#303030"/>
<rect x="1280" y="940" width="80" height="40" fill="#363636"/>
<rect x="1360" y="940" width="320" height="40" fill="#303030"/>
<rect x="840" y="980" width="120" height="40" fill="#464646"/>
<rect x="960" y="980" width="80" height="40" fill="#4c4c4c"/>
<rect x="1040" y="980" width="40" height="40" fill="#525252"/>
<rect x="1080" y="980" width="40" height="40" fill="#4c4c4c"/>
<rect x="1120" y="980" width="40" height="40" fill="#3e3e3e"/>
<rect x="1160" y="980" width="40" height="40" fill="#303030"/>
<rect x="1200" y="980" width="80" height="40" fill="#2a2a2a"/>
<rect x="1280" y="980" width="80" height="40" fill="#303030"/>
<rect x="1360" y="980" width="40" height="40" fill="#363636"/>
<rect x="1400" y="980" width="40" height="40" fill="#3e3e3e"/>
<rect x="1440" y="980" width="240" height="40" fill="#363636"/>
<rect x="840" y="1020" width="120" height="40" fill="#595959"/>
<rect x="960" y="1020" width="40" height="40" fill="#616161"/>
<rect x="1000" y="1020" width="40" height="40" fill="#595959"/>
<rect x="1040" y="1020" width="40" height="40" fill="#4c4c4c"/>
<rect x="1080" y="1020" width="40" height="40" fill="#464646"/>
<rect x="1120" y="1020" width="40" height="40" fill="#3e3e3e"/>
<rect x="1160" y="1020" width="40" height="40" fill="#363636"/>
<rect x="1200" y="1020" width="80" height="40" fill="#303030"/>
<rect x="1280" y="1020" width="40" height="40" fill="#363636"/>
<rect x="1320" y="1020" width="80" height="40" fill="#303030"/>
<rect x="1400" y="1020" width="120" height="40" fill="#3e3e3e"/>
<rect x="1520" y="1020" width="160" height="40" fill="#363636"/>
<rect x="840" y="1060" width="160" height="40" fill="#717171"/>
<rect x="1000" y="1060" width="40" height="40" fill="#595959"/>
<rect x="1040" y="1060" width="120" height="40" fill="#464646"/>
<rect x="1160" y="1060" width="40" height="40" fill="#3e3e3e"/>
<rect x="1200" y="1060" width="40" height="40" fill="#363636"/>
<rect x="1240" y="1060" width="160" height="40" fill="#303030"/>
<rect x="1400" y="1060" width="120" height="40" fill="#363636"/>
<rect x="1520" y="1060" width="160" height="40" fill="#3e3e3e"/>
<rect x="840" y="1100" width="120" height="40" fill="#666666"/>
<rect x="960" y="1100" width="40" height="40" fill="#595959"/>
<rect x="1000" y="1100" width="80" height="40" fill="#4c4c4c"/>
<rect x="1080" y="1100" width="80" height="40" fill="#525252"/>
<rect x="1160" y="1100" width="40" height="40" fill="#4c4c4c"/>
<rect x="1200" y="1100" width="40" height="40" fill="#363636"/>
<rect x="1240" y="1100" width="40" height="40" fill="#222222"/>
<rect x="1280" y="1100" width="40" height="40" fill="#2a2a2a"/>
<rect x="1320" y="1100" width="80" height="40" fill="#222222"/>
<rect x="1400" y="1100" width="40" height="40" fill="#2a2a2a"/>
<rect x="1440" y="1100" width="40" height="40" fill="#303030"/>
<rect x="1480" y="1100" width="200" height="40" fill="#4c4c4c"/>
<rect x="840" y="1140" width="120" height="40" fill="#525252"/>
<rect x="960" y="1140" width="80" height="40" fill="#4c4c4c"/>
<rect x="1040" y="1140" width="80" height="40" fill="#595959"/>
<rect x="1120" y="1140" width="40" height="40" fill="#525252"/>
<rect x="1160" y="1140" width="40" height="40" fill="#4c4c4c"/>
<rect x="1200" y="1140" width="40" height="40" fill="#303030"/>
<rect x="1240" y="1140" width="40" height="40" fill="#222222"/>
<rect x="1280" y="1140" width="40" height="40" fill="#303030"/>
<rect x="1320" y="1140" width="40" height="40" fill="#2a2a2a"/>
<rect x="1360" y="1140" width="40" height="40" fill="#222222"/>
<rect x="1400" y="1140" width="40" height="40" fill="#2a2a2a"/>
<rect x="1440" y="1140" width="40" height="40" fill="#303030"/>
<rect x="1480" y="1140" width="200" height="40" fill="#3e3e3e"/>
<rect x="840" y="1180" width="120" height="120" fill="#4c4c4c"/>
<rect x="960" y="1180" width="40" height="120" fill="#464646"/>
<rect x="1000" y="1180" width="40" height="120" fill="#4c4c4c"/>
<rect x="1040" y="1180" width="40" height="120" fill="#595959"/>
<rect x="1080" y="1180" width="40" height="120" fill="#525252"/>
<rect x="1120" y="1180" width="40" height="120" fill="#4c4c4c"/>
<rect x="1160" y="1180" width="40" height="120" fill="#464646"/>
<rect x="1200" y="1180" width="40" height="120" fill="#303030"/>
<rect x="1240" y="1180" width="40" height="120" fill="#222222"/>
<rect x="1280" y="1180" width="80" height="120" fill="#303030"/>
<rect x="1360" y="1180" width="80" height="120" fill="#2a2a2a"/>
<rect x="1440" y="1180" width="40" height="120" fill="#303030"/>
<rect x="1480" y="1180" width="200" height="120" fill="#3e3e3e"/>
</g>
<use href="#riv"/>
</g>
<polygon points="1020.7,115.2 1574.5,115.9 1517.2,1202.3 938.7,1202.3" fill="none" stroke="#000" stroke-width="4" stroke-linejoin="miter"/>
<use href="#obs"/>
<g clip-path="url(#mc)" opacity="0.72"><use href="#riv"/></g>
</g>
<rect x="96.5" y="100.2" width="1654" height="2464" fill="none" stroke="#000" stroke-width="2.6"/>
<rect x="380.3" y="1213.1" width="338.3" height="51.7" fill="url(#ramp)"/>
<line x1="380.8" y1="1264.8" x2="380.8" y2="1269.8" stroke="#333" stroke-width="0.9"/>
<line x1="549.5" y1="1264.8" x2="549.5" y2="1269.8" stroke="#333" stroke-width="0.9"/>
<line x1="718.1" y1="1264.8" x2="718.1" y2="1269.8" stroke="#333" stroke-width="0.9"/>
<rect x="1078.0" y="1216.0" width="338.5" height="51.0" fill="url(#ramp)"/>
<line x1="1078.5" y1="1267.0" x2="1078.5" y2="1272.0" stroke="#333" stroke-width="0.9"/>
<line x1="1247.2" y1="1267.0" x2="1247.2" y2="1272.0" stroke="#333" stroke-width="0.9"/>
<line x1="1416.0" y1="1267.0" x2="1416.0" y2="1272.0" stroke="#333" stroke-width="0.9"/>
<rect x="369.7" y="2448.4" width="338.6" height="52.1" fill="url(#ramp)"/>
<line x1="370.2" y1="2500.5" x2="370.2" y2="2505.5" stroke="#333" stroke-width="0.9"/>
<line x1="539.0" y1="2500.5" x2="539.0" y2="2505.5" stroke="#333" stroke-width="0.9"/>
<line x1="707.8" y1="2500.5" x2="707.8" y2="2505.5" stroke="#333" stroke-width="0.9"/>
<text x="130.7" y="69" font-size="53" text-anchor="middle">118°0'0"E</text>
<text x="648.5" y="69" font-size="53" text-anchor="middle">118°40'0"E</text>
<text x="1213.8" y="69" font-size="53" text-anchor="middle">118°30'0"E</text>
<text x="1603.5" y="69" font-size="53" text-anchor="middle">119°0'0"E</text>
<text transform="translate(66.6,258.1) rotate(-90)" font-size="53" text-anchor="middle">37°55'0"N</text>
<text transform="translate(66.6,668.9) rotate(-90)" font-size="53" text-anchor="middle">37°30'0"N</text>
<text transform="translate(66.6,1077.3) rotate(-90)" font-size="53" text-anchor="middle">37°5'0"N</text>
<text transform="translate(66.6,1407.2) rotate(-90)" font-size="53" text-anchor="middle">38°0'0"N</text>
<text transform="translate(66.6,1896.7) rotate(-90)" font-size="53" text-anchor="middle">37°30'0"N</text>
<text transform="translate(66.6,2388.7) rotate(-90)" font-size="53" text-anchor="middle">37°0'0"N</text>
<text x="243" y="148.7" font-size="53.5" class="b">(a)</text>
<text x="939" y="148.8" font-size="53.5" class="b">(b)</text>
<text x="246.5" y="1375.5" font-size="53.5" class="b">(c)</text>
<text x="250" y="1259.3" font-size="51" class="b">High</text>
<text x="732" y="1253" font-size="52.5" class="b">Low</text>
<text x="323.5" y="1317.3" font-size="53" class="b">69.97</text>
<text x="663.5" y="1317.3" font-size="53" class="b">0.59</text>
<text x="946" y="1261.5" font-size="51" class="b">High</text>
<text x="1431" y="1254.5" font-size="52.5" class="b">Low</text>
<text x="1020.8" y="1319" font-size="53" class="b">76.10</text>
<text x="1362.5" y="1319" font-size="53" class="b">1.08</text>
<text x="239" y="2494" font-size="51" class="b">High</text>
<text x="724" y="2487" font-size="52.5" class="b">Low</text>
<text x="313.5" y="2553.5" font-size="53" class="b">82.36</text>
<text x="654.5" y="2553.5" font-size="53" class="b">0.76</text>
<text x="1333.3" y="1459" font-size="49" class="s" text-anchor="middle" stroke="#000" stroke-width="0.7">N</text>
<path d="M1332.6 1467.5 L1366.6 1581.8 L1332.6 1541.6 L1298.3 1581.8 Z" fill="#000"/>
<path d="M1334.5 1484 L1356.6 1564.6 L1334.5 1538.2 Z" fill="#fff"/>
<text x="1143.5" y="1693" font-size="64.7" class="b">Observation</text>
<circle cx="1175" cy="1741" r="3.5" fill="#8a8a8a"/>
<text x="1230.5" y="1763" font-size="59.3" class="b">1.31 - 11.14</text>
<circle cx="1175" cy="1821" r="7" fill="#8a8a8a"/>
<text x="1230.5" y="1844" font-size="59.3" class="b">11.15 - 23.59</text>
<circle cx="1175" cy="1901.6" r="11.5" fill="#8a8a8a"/>
<text x="1230.5" y="1924" font-size="59.3" class="b">23.60 - 33.41</text>
<circle cx="1175" cy="1982" r="14.5" fill="#8a8a8a"/>
<text x="1230.5" y="2003.2" font-size="59.3" class="b">33.42 - 48.48</text>
<circle cx="1175" cy="2061.6" r="17.8" fill="#8a8a8a"/>
<text x="1230.5" y="2083.6" font-size="59.3" class="b">48.49 - 81.89</text>
<line x1="1134.5" y1="2145" x2="1217" y2="2145" stroke="#000" stroke-width="8" stroke-linecap="round"/>
<text x="1230" y="2169" font-size="64.7" class="b">Study area</text>
<rect x="1133.4" y="2210.6" width="85.3" height="43" fill="#0a5ce6"/>
<text x="1230" y="2255.7" font-size="64.7" class="b">River</text>
<text x="1132.5" y="2346" font-size="64.7" class="b">Unit: kg N ha<tspan font-size="38" dy="-31">-1</tspan><tspan dy="31"> d</tspan><tspan font-size="38" dy="-31">-1</tspan></text>
<text x="1138.5" y="2438.6" font-size="59.3" class="b">0</text>
<text x="1258.5" y="2438.6" font-size="59.3" class="b">15</text>
<text x="1388.5" y="2438.6" font-size="59.3" class="b">30</text>
<text x="1468" y="2438.6" font-size="56" class="b">km</text>
<path d="M1154.2 2454.5 V2497.5 M1420.1 2454.5 V2497.5 M1242.2 2460.3 V2491.8 M1331.3 2460.3 V2491.8 M1154.2 2476 H1420.1" stroke="#000" stroke-width="2.8" fill="none"/>
</svg></body></html>
